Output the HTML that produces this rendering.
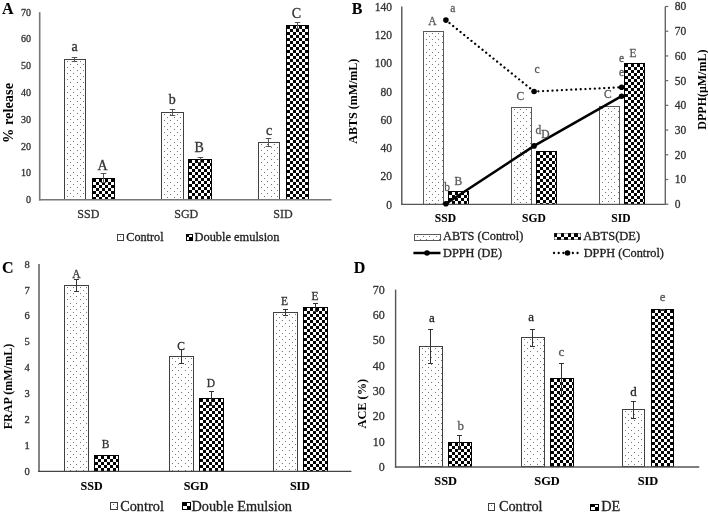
<!DOCTYPE html><html><head><meta charset="utf-8"><style>html,body{margin:0;padding:0;background:#fff;}svg{display:block;filter:grayscale(1);}text{font-family:"Liberation Serif",serif;}</style></head><body>
<svg width="708" height="515" viewBox="0 0 708 515">
<defs>
<pattern id="dots" patternUnits="userSpaceOnUse" width="6.3" height="6.1"><rect width="6.3" height="6.1" fill="#fff"/><rect x="0.2" y="0.2" width="1" height="1" fill="#666"/><rect x="3.35" y="3.25" width="1" height="1" fill="#666"/></pattern>
<pattern id="chk" patternUnits="userSpaceOnUse" width="6.2" height="6.2"><rect width="6.2" height="6.2" fill="#fff"/><rect x="0" y="0" width="3.1" height="3.1" fill="#000"/><rect x="3.1" y="3.1" width="3.1" height="3.1" fill="#000"/></pattern>
</defs>
<rect width="708" height="515" fill="#fff"/>
<text x="2.0" y="14.0" font-size="16" fill="#000" stroke="#000" stroke-width="0.1" font-weight="bold" text-anchor="start" >A</text>
<text x="31.0" y="203.0" font-size="10" fill="#333" stroke="#333" stroke-width="0.3" font-weight="normal" text-anchor="end" >0</text>
<text x="31.0" y="176.2" font-size="10" fill="#333" stroke="#333" stroke-width="0.3" font-weight="normal" text-anchor="end" >10</text>
<text x="31.0" y="149.5" font-size="10" fill="#333" stroke="#333" stroke-width="0.3" font-weight="normal" text-anchor="end" >20</text>
<text x="31.0" y="122.7" font-size="10" fill="#333" stroke="#333" stroke-width="0.3" font-weight="normal" text-anchor="end" >30</text>
<text x="31.0" y="95.9" font-size="10" fill="#333" stroke="#333" stroke-width="0.3" font-weight="normal" text-anchor="end" >40</text>
<text x="31.0" y="69.2" font-size="10" fill="#333" stroke="#333" stroke-width="0.3" font-weight="normal" text-anchor="end" >50</text>
<text x="31.0" y="42.4" font-size="10" fill="#333" stroke="#333" stroke-width="0.3" font-weight="normal" text-anchor="end" >60</text>
<text x="31.0" y="15.6" font-size="10" fill="#333" stroke="#333" stroke-width="0.3" font-weight="normal" text-anchor="end" >70</text>
<text transform="translate(7.5,113.0) rotate(-90)" x="0" y="0" font-size="14.4" fill="#000" font-weight="bold" text-anchor="middle" dominant-baseline="central">% release</text>
<rect x="64.5" y="59.5" width="21.0" height="140.0" fill="#fff"/>
<path d="M67 61h1v1h-1zM73 61h1v1h-1zM80 61h1v1h-1zM70 64h1v1h-1zM77 64h1v1h-1zM83 64h1v1h-1zM67 67h1v1h-1zM73 67h1v1h-1zM80 67h1v1h-1zM70 70h1v1h-1zM77 70h1v1h-1zM83 70h1v1h-1zM67 73h1v1h-1zM73 73h1v1h-1zM80 73h1v1h-1zM70 76h1v1h-1zM77 76h1v1h-1zM83 76h1v1h-1zM67 79h1v1h-1zM73 79h1v1h-1zM80 79h1v1h-1zM70 82h1v1h-1zM77 82h1v1h-1zM83 82h1v1h-1zM67 86h1v1h-1zM73 86h1v1h-1zM80 86h1v1h-1zM70 89h1v1h-1zM77 89h1v1h-1zM83 89h1v1h-1zM67 92h1v1h-1zM73 92h1v1h-1zM80 92h1v1h-1zM70 95h1v1h-1zM77 95h1v1h-1zM83 95h1v1h-1zM67 98h1v1h-1zM73 98h1v1h-1zM80 98h1v1h-1zM70 101h1v1h-1zM77 101h1v1h-1zM83 101h1v1h-1zM67 104h1v1h-1zM73 104h1v1h-1zM80 104h1v1h-1zM70 107h1v1h-1zM77 107h1v1h-1zM83 107h1v1h-1zM67 110h1v1h-1zM73 110h1v1h-1zM80 110h1v1h-1zM70 113h1v1h-1zM77 113h1v1h-1zM83 113h1v1h-1zM67 116h1v1h-1zM73 116h1v1h-1zM80 116h1v1h-1zM70 119h1v1h-1zM77 119h1v1h-1zM83 119h1v1h-1zM67 122h1v1h-1zM73 122h1v1h-1zM80 122h1v1h-1zM70 125h1v1h-1zM77 125h1v1h-1zM83 125h1v1h-1zM67 129h1v1h-1zM73 129h1v1h-1zM80 129h1v1h-1zM70 132h1v1h-1zM77 132h1v1h-1zM83 132h1v1h-1zM67 135h1v1h-1zM73 135h1v1h-1zM80 135h1v1h-1zM70 138h1v1h-1zM77 138h1v1h-1zM83 138h1v1h-1zM67 141h1v1h-1zM73 141h1v1h-1zM80 141h1v1h-1zM70 144h1v1h-1zM77 144h1v1h-1zM83 144h1v1h-1zM67 147h1v1h-1zM73 147h1v1h-1zM80 147h1v1h-1zM70 150h1v1h-1zM77 150h1v1h-1zM83 150h1v1h-1zM67 153h1v1h-1zM73 153h1v1h-1zM80 153h1v1h-1zM70 156h1v1h-1zM77 156h1v1h-1zM83 156h1v1h-1zM67 159h1v1h-1zM73 159h1v1h-1zM80 159h1v1h-1zM70 162h1v1h-1zM77 162h1v1h-1zM83 162h1v1h-1zM67 165h1v1h-1zM73 165h1v1h-1zM80 165h1v1h-1zM70 168h1v1h-1zM77 168h1v1h-1zM83 168h1v1h-1zM67 172h1v1h-1zM73 172h1v1h-1zM80 172h1v1h-1zM70 175h1v1h-1zM77 175h1v1h-1zM83 175h1v1h-1zM67 178h1v1h-1zM73 178h1v1h-1zM80 178h1v1h-1zM70 181h1v1h-1zM77 181h1v1h-1zM83 181h1v1h-1zM67 184h1v1h-1zM73 184h1v1h-1zM80 184h1v1h-1zM70 187h1v1h-1zM77 187h1v1h-1zM83 187h1v1h-1zM67 190h1v1h-1zM73 190h1v1h-1zM80 190h1v1h-1zM70 193h1v1h-1zM77 193h1v1h-1zM83 193h1v1h-1zM67 196h1v1h-1zM73 196h1v1h-1zM80 196h1v1h-1z" fill="#777"/>
<rect x="64.5" y="59.5" width="21.0" height="140.0" fill="none" stroke="#404040" stroke-width="1"/>
<rect x="92.5" y="178.5" width="22.0" height="21.0" fill="#fff"/>
<path d="M93 179h3v3h-3zM99 179h3v3h-3zM105 179h3v3h-3zM111 179h3v3h-3zM96 182h3v3h-3zM102 182h3v3h-3zM108 182h3v3h-3zM93 185h3v3h-3zM99 185h3v3h-3zM105 185h3v3h-3zM111 185h3v3h-3zM96 188h3v3h-3zM102 188h3v3h-3zM108 188h3v3h-3zM93 191h3v3h-3zM99 191h3v3h-3zM105 191h3v3h-3zM111 191h3v3h-3zM96 194h3v3h-3zM102 194h3v3h-3zM108 194h3v3h-3zM93 197h3v2h-3zM99 197h3v2h-3zM105 197h3v2h-3zM111 197h3v2h-3z" fill="#000"/>
<rect x="92.5" y="178.5" width="22.0" height="21.0" fill="none" stroke="#000" stroke-width="1"/>
<rect x="161.5" y="112.5" width="22.0" height="87.0" fill="#fff"/>
<path d="M164 114h1v1h-1zM170 114h1v1h-1zM177 114h1v1h-1zM167 117h1v1h-1zM174 117h1v1h-1zM180 117h1v1h-1zM164 120h1v1h-1zM170 120h1v1h-1zM177 120h1v1h-1zM167 123h1v1h-1zM174 123h1v1h-1zM180 123h1v1h-1zM164 126h1v1h-1zM170 126h1v1h-1zM177 126h1v1h-1zM167 129h1v1h-1zM174 129h1v1h-1zM180 129h1v1h-1zM164 132h1v1h-1zM170 132h1v1h-1zM177 132h1v1h-1zM167 135h1v1h-1zM174 135h1v1h-1zM180 135h1v1h-1zM164 139h1v1h-1zM170 139h1v1h-1zM177 139h1v1h-1zM167 142h1v1h-1zM174 142h1v1h-1zM180 142h1v1h-1zM164 145h1v1h-1zM170 145h1v1h-1zM177 145h1v1h-1zM167 148h1v1h-1zM174 148h1v1h-1zM180 148h1v1h-1zM164 151h1v1h-1zM170 151h1v1h-1zM177 151h1v1h-1zM167 154h1v1h-1zM174 154h1v1h-1zM180 154h1v1h-1zM164 157h1v1h-1zM170 157h1v1h-1zM177 157h1v1h-1zM167 160h1v1h-1zM174 160h1v1h-1zM180 160h1v1h-1zM164 163h1v1h-1zM170 163h1v1h-1zM177 163h1v1h-1zM167 166h1v1h-1zM174 166h1v1h-1zM180 166h1v1h-1zM164 169h1v1h-1zM170 169h1v1h-1zM177 169h1v1h-1zM167 172h1v1h-1zM174 172h1v1h-1zM180 172h1v1h-1zM164 175h1v1h-1zM170 175h1v1h-1zM177 175h1v1h-1zM167 178h1v1h-1zM174 178h1v1h-1zM180 178h1v1h-1zM164 182h1v1h-1zM170 182h1v1h-1zM177 182h1v1h-1zM167 185h1v1h-1zM174 185h1v1h-1zM180 185h1v1h-1zM164 188h1v1h-1zM170 188h1v1h-1zM177 188h1v1h-1zM167 191h1v1h-1zM174 191h1v1h-1zM180 191h1v1h-1zM164 194h1v1h-1zM170 194h1v1h-1zM177 194h1v1h-1zM167 197h1v1h-1zM174 197h1v1h-1zM180 197h1v1h-1z" fill="#777"/>
<rect x="161.5" y="112.5" width="22.0" height="87.0" fill="none" stroke="#404040" stroke-width="1"/>
<rect x="188.5" y="159.5" width="23.0" height="40.0" fill="#fff"/>
<path d="M189 160h3v3h-3zM195 160h3v3h-3zM201 160h3v3h-3zM207 160h3v3h-3zM192 163h3v3h-3zM198 163h3v3h-3zM204 163h3v3h-3zM210 163h1v3h-1zM189 166h3v3h-3zM195 166h3v3h-3zM201 166h3v3h-3zM207 166h3v3h-3zM192 169h3v3h-3zM198 169h3v3h-3zM204 169h3v3h-3zM210 169h1v3h-1zM189 172h3v3h-3zM195 172h3v3h-3zM201 172h3v3h-3zM207 172h3v3h-3zM192 175h3v3h-3zM198 175h3v3h-3zM204 175h3v3h-3zM210 175h1v3h-1zM189 178h3v3h-3zM195 178h3v3h-3zM201 178h3v3h-3zM207 178h3v3h-3zM192 181h3v3h-3zM198 181h3v3h-3zM204 181h3v3h-3zM210 181h1v3h-1zM189 184h3v3h-3zM195 184h3v3h-3zM201 184h3v3h-3zM207 184h3v3h-3zM192 187h3v3h-3zM198 187h3v3h-3zM204 187h3v3h-3zM210 187h1v3h-1zM189 190h3v3h-3zM195 190h3v3h-3zM201 190h3v3h-3zM207 190h3v3h-3zM192 193h3v3h-3zM198 193h3v3h-3zM204 193h3v3h-3zM210 193h1v3h-1zM189 196h3v3h-3zM195 196h3v3h-3zM201 196h3v3h-3zM207 196h3v3h-3z" fill="#000"/>
<rect x="188.5" y="159.5" width="23.0" height="40.0" fill="none" stroke="#000" stroke-width="1"/>
<rect x="258.5" y="142.5" width="21.0" height="57.0" fill="#fff"/>
<path d="M261 144h1v1h-1zM267 144h1v1h-1zM274 144h1v1h-1zM264 147h1v1h-1zM271 147h1v1h-1zM277 147h1v1h-1zM261 150h1v1h-1zM267 150h1v1h-1zM274 150h1v1h-1zM264 153h1v1h-1zM271 153h1v1h-1zM277 153h1v1h-1zM261 156h1v1h-1zM267 156h1v1h-1zM274 156h1v1h-1zM264 159h1v1h-1zM271 159h1v1h-1zM277 159h1v1h-1zM261 162h1v1h-1zM267 162h1v1h-1zM274 162h1v1h-1zM264 165h1v1h-1zM271 165h1v1h-1zM277 165h1v1h-1zM261 169h1v1h-1zM267 169h1v1h-1zM274 169h1v1h-1zM264 172h1v1h-1zM271 172h1v1h-1zM277 172h1v1h-1zM261 175h1v1h-1zM267 175h1v1h-1zM274 175h1v1h-1zM264 178h1v1h-1zM271 178h1v1h-1zM277 178h1v1h-1zM261 181h1v1h-1zM267 181h1v1h-1zM274 181h1v1h-1zM264 184h1v1h-1zM271 184h1v1h-1zM277 184h1v1h-1zM261 187h1v1h-1zM267 187h1v1h-1zM274 187h1v1h-1zM264 190h1v1h-1zM271 190h1v1h-1zM277 190h1v1h-1zM261 193h1v1h-1zM267 193h1v1h-1zM274 193h1v1h-1zM264 196h1v1h-1zM271 196h1v1h-1zM277 196h1v1h-1z" fill="#777"/>
<rect x="258.5" y="142.5" width="21.0" height="57.0" fill="none" stroke="#404040" stroke-width="1"/>
<rect x="286.5" y="25.5" width="22.0" height="174.0" fill="#fff"/>
<path d="M287 26h3v3h-3zM293 26h3v3h-3zM299 26h3v3h-3zM305 26h3v3h-3zM290 29h3v3h-3zM296 29h3v3h-3zM302 29h3v3h-3zM287 32h3v3h-3zM293 32h3v3h-3zM299 32h3v3h-3zM305 32h3v3h-3zM290 35h3v3h-3zM296 35h3v3h-3zM302 35h3v3h-3zM287 38h3v3h-3zM293 38h3v3h-3zM299 38h3v3h-3zM305 38h3v3h-3zM290 41h3v3h-3zM296 41h3v3h-3zM302 41h3v3h-3zM287 44h3v3h-3zM293 44h3v3h-3zM299 44h3v3h-3zM305 44h3v3h-3zM290 47h3v3h-3zM296 47h3v3h-3zM302 47h3v3h-3zM287 50h3v3h-3zM293 50h3v3h-3zM299 50h3v3h-3zM305 50h3v3h-3zM290 53h3v3h-3zM296 53h3v3h-3zM302 53h3v3h-3zM287 56h3v3h-3zM293 56h3v3h-3zM299 56h3v3h-3zM305 56h3v3h-3zM290 59h3v3h-3zM296 59h3v3h-3zM302 59h3v3h-3zM287 62h3v3h-3zM293 62h3v3h-3zM299 62h3v3h-3zM305 62h3v3h-3zM290 65h3v3h-3zM296 65h3v3h-3zM302 65h3v3h-3zM287 68h3v3h-3zM293 68h3v3h-3zM299 68h3v3h-3zM305 68h3v3h-3zM290 71h3v3h-3zM296 71h3v3h-3zM302 71h3v3h-3zM287 74h3v3h-3zM293 74h3v3h-3zM299 74h3v3h-3zM305 74h3v3h-3zM290 77h3v3h-3zM296 77h3v3h-3zM302 77h3v3h-3zM287 80h3v3h-3zM293 80h3v3h-3zM299 80h3v3h-3zM305 80h3v3h-3zM290 83h3v3h-3zM296 83h3v3h-3zM302 83h3v3h-3zM287 86h3v3h-3zM293 86h3v3h-3zM299 86h3v3h-3zM305 86h3v3h-3zM290 89h3v3h-3zM296 89h3v3h-3zM302 89h3v3h-3zM287 92h3v3h-3zM293 92h3v3h-3zM299 92h3v3h-3zM305 92h3v3h-3zM290 95h3v3h-3zM296 95h3v3h-3zM302 95h3v3h-3zM287 98h3v3h-3zM293 98h3v3h-3zM299 98h3v3h-3zM305 98h3v3h-3zM290 101h3v3h-3zM296 101h3v3h-3zM302 101h3v3h-3zM287 104h3v3h-3zM293 104h3v3h-3zM299 104h3v3h-3zM305 104h3v3h-3zM290 107h3v3h-3zM296 107h3v3h-3zM302 107h3v3h-3zM287 110h3v3h-3zM293 110h3v3h-3zM299 110h3v3h-3zM305 110h3v3h-3zM290 113h3v3h-3zM296 113h3v3h-3zM302 113h3v3h-3zM287 116h3v3h-3zM293 116h3v3h-3zM299 116h3v3h-3zM305 116h3v3h-3zM290 119h3v3h-3zM296 119h3v3h-3zM302 119h3v3h-3zM287 122h3v3h-3zM293 122h3v3h-3zM299 122h3v3h-3zM305 122h3v3h-3zM290 125h3v3h-3zM296 125h3v3h-3zM302 125h3v3h-3zM287 128h3v3h-3zM293 128h3v3h-3zM299 128h3v3h-3zM305 128h3v3h-3zM290 131h3v3h-3zM296 131h3v3h-3zM302 131h3v3h-3zM287 134h3v3h-3zM293 134h3v3h-3zM299 134h3v3h-3zM305 134h3v3h-3zM290 137h3v3h-3zM296 137h3v3h-3zM302 137h3v3h-3zM287 140h3v3h-3zM293 140h3v3h-3zM299 140h3v3h-3zM305 140h3v3h-3zM290 143h3v3h-3zM296 143h3v3h-3zM302 143h3v3h-3zM287 146h3v3h-3zM293 146h3v3h-3zM299 146h3v3h-3zM305 146h3v3h-3zM290 149h3v3h-3zM296 149h3v3h-3zM302 149h3v3h-3zM287 152h3v3h-3zM293 152h3v3h-3zM299 152h3v3h-3zM305 152h3v3h-3zM290 155h3v3h-3zM296 155h3v3h-3zM302 155h3v3h-3zM287 158h3v3h-3zM293 158h3v3h-3zM299 158h3v3h-3zM305 158h3v3h-3zM290 161h3v3h-3zM296 161h3v3h-3zM302 161h3v3h-3zM287 164h3v3h-3zM293 164h3v3h-3zM299 164h3v3h-3zM305 164h3v3h-3zM290 167h3v3h-3zM296 167h3v3h-3zM302 167h3v3h-3zM287 170h3v3h-3zM293 170h3v3h-3zM299 170h3v3h-3zM305 170h3v3h-3zM290 173h3v3h-3zM296 173h3v3h-3zM302 173h3v3h-3zM287 176h3v3h-3zM293 176h3v3h-3zM299 176h3v3h-3zM305 176h3v3h-3zM290 179h3v3h-3zM296 179h3v3h-3zM302 179h3v3h-3zM287 182h3v3h-3zM293 182h3v3h-3zM299 182h3v3h-3zM305 182h3v3h-3zM290 185h3v3h-3zM296 185h3v3h-3zM302 185h3v3h-3zM287 188h3v3h-3zM293 188h3v3h-3zM299 188h3v3h-3zM305 188h3v3h-3zM290 191h3v3h-3zM296 191h3v3h-3zM302 191h3v3h-3zM287 194h3v3h-3zM293 194h3v3h-3zM299 194h3v3h-3zM305 194h3v3h-3zM290 197h3v2h-3zM296 197h3v2h-3zM302 197h3v2h-3z" fill="#000"/>
<rect x="286.5" y="25.5" width="22.0" height="174.0" fill="none" stroke="#000" stroke-width="1"/>
<line x1="74.50" y1="57.45" x2="74.50" y2="61.73" stroke="#555" stroke-width="1" />
<line x1="71.75" y1="57.50" x2="77.25" y2="57.50" stroke="#555" stroke-width="1" />
<line x1="71.75" y1="61.50" x2="77.25" y2="61.50" stroke="#555" stroke-width="1" />
<line x1="103.50" y1="173.90" x2="103.50" y2="182.47" stroke="#555" stroke-width="1" />
<line x1="100.75" y1="173.50" x2="106.25" y2="173.50" stroke="#555" stroke-width="1" />
<line x1="100.75" y1="182.50" x2="106.25" y2="182.50" stroke="#555" stroke-width="1" />
<line x1="172.50" y1="109.65" x2="172.50" y2="115.01" stroke="#555" stroke-width="1" />
<line x1="169.75" y1="109.50" x2="175.25" y2="109.50" stroke="#555" stroke-width="1" />
<line x1="169.75" y1="115.50" x2="175.25" y2="115.50" stroke="#555" stroke-width="1" />
<line x1="200.50" y1="157.30" x2="200.50" y2="162.66" stroke="#555" stroke-width="1" />
<line x1="197.75" y1="157.50" x2="203.25" y2="157.50" stroke="#555" stroke-width="1" />
<line x1="197.75" y1="162.50" x2="203.25" y2="162.50" stroke="#555" stroke-width="1" />
<line x1="268.50" y1="138.56" x2="268.50" y2="146.06" stroke="#555" stroke-width="1" />
<line x1="265.75" y1="138.50" x2="271.25" y2="138.50" stroke="#555" stroke-width="1" />
<line x1="265.75" y1="146.50" x2="271.25" y2="146.50" stroke="#555" stroke-width="1" />
<line x1="297.50" y1="22.65" x2="297.50" y2="28.54" stroke="#555" stroke-width="1" />
<line x1="294.75" y1="22.50" x2="300.25" y2="22.50" stroke="#555" stroke-width="1" />
<line x1="294.75" y1="28.50" x2="300.25" y2="28.50" stroke="#555" stroke-width="1" />
<line x1="39.70" y1="12.20" x2="39.70" y2="200.60" stroke="#777" stroke-width="1.6" />
<line x1="39.20" y1="199.80" x2="331.50" y2="199.80" stroke="#777" stroke-width="1.6" />
<text x="88.3" y="218.0" font-size="12" fill="#333" stroke="#333" stroke-width="0.3" font-weight="normal" text-anchor="middle" >SSD</text>
<text x="186.3" y="218.0" font-size="12" fill="#333" stroke="#333" stroke-width="0.3" font-weight="normal" text-anchor="middle" >SGD</text>
<text x="282.9" y="218.0" font-size="12" fill="#333" stroke="#333" stroke-width="0.3" font-weight="normal" text-anchor="middle" >SID</text>
<text x="74.7" y="51.0" font-size="14" fill="#333" stroke="#333" stroke-width="0.3" font-weight="normal" text-anchor="middle" >a</text>
<text x="102.5" y="170.3" font-size="14" fill="#333" stroke="#333" stroke-width="0.3" font-weight="normal" text-anchor="middle" >A</text>
<text x="172.2" y="104.0" font-size="14" fill="#333" stroke="#333" stroke-width="0.3" font-weight="normal" text-anchor="middle" >b</text>
<text x="199.2" y="151.7" font-size="14" fill="#333" stroke="#333" stroke-width="0.3" font-weight="normal" text-anchor="middle" >B</text>
<text x="269.0" y="134.6" font-size="14" fill="#333" stroke="#333" stroke-width="0.3" font-weight="normal" text-anchor="middle" >c</text>
<text x="296.4" y="17.5" font-size="14" fill="#333" stroke="#333" stroke-width="0.3" font-weight="normal" text-anchor="middle" >C</text>
<rect x="117.5" y="234.5" width="6.0" height="6.0" fill="#fff"/>
<path d="M120 236h1v1h-1z" fill="#777"/>
<rect x="117.5" y="234.5" width="6.0" height="6.0" fill="none" stroke="#404040" stroke-width="1"/>
<text x="126.3" y="240.5" font-size="12.2" fill="#222" stroke="#222" stroke-width="0.3" font-weight="normal" text-anchor="start" >Control</text>
<rect x="186.5" y="234.5" width="6.0" height="6.0" fill="#fff"/>
<path d="M187 235h2v2h-2zM189 237h3v3h-3z" fill="#000"/>
<rect x="186.5" y="234.5" width="6.0" height="6.0" fill="none" stroke="#000" stroke-width="1"/>
<text x="194.5" y="240.5" font-size="12.4" fill="#222" stroke="#222" stroke-width="0.3" font-weight="normal" text-anchor="start" >Double emulsion</text>
<text x="351.7" y="14.0" font-size="16" fill="#000" stroke="#000" stroke-width="0.1" font-weight="bold" text-anchor="start" >B</text>
<text x="392.0" y="208.5" font-size="11.5" fill="#333" stroke="#333" stroke-width="0.3" font-weight="normal" text-anchor="end" >0</text>
<text x="392.0" y="180.3" font-size="11.5" fill="#333" stroke="#333" stroke-width="0.3" font-weight="normal" text-anchor="end" >20</text>
<text x="392.0" y="152.0" font-size="11.5" fill="#333" stroke="#333" stroke-width="0.3" font-weight="normal" text-anchor="end" >40</text>
<text x="392.0" y="123.8" font-size="11.5" fill="#333" stroke="#333" stroke-width="0.3" font-weight="normal" text-anchor="end" >60</text>
<text x="392.0" y="95.5" font-size="11.5" fill="#333" stroke="#333" stroke-width="0.3" font-weight="normal" text-anchor="end" >80</text>
<text x="392.0" y="67.3" font-size="11.5" fill="#333" stroke="#333" stroke-width="0.3" font-weight="normal" text-anchor="end" >100</text>
<text x="392.0" y="39.1" font-size="11.5" fill="#333" stroke="#333" stroke-width="0.3" font-weight="normal" text-anchor="end" >120</text>
<text x="392.0" y="10.8" font-size="11.5" fill="#333" stroke="#333" stroke-width="0.3" font-weight="normal" text-anchor="end" >140</text>
<text x="674.8" y="208.1" font-size="11.5" fill="#333" stroke="#333" stroke-width="0.3" font-weight="normal" text-anchor="start" >0</text>
<text x="674.8" y="183.4" font-size="11.5" fill="#333" stroke="#333" stroke-width="0.3" font-weight="normal" text-anchor="start" >10</text>
<text x="674.8" y="158.7" font-size="11.5" fill="#333" stroke="#333" stroke-width="0.3" font-weight="normal" text-anchor="start" >20</text>
<text x="674.8" y="134.0" font-size="11.5" fill="#333" stroke="#333" stroke-width="0.3" font-weight="normal" text-anchor="start" >30</text>
<text x="674.8" y="109.3" font-size="11.5" fill="#333" stroke="#333" stroke-width="0.3" font-weight="normal" text-anchor="start" >40</text>
<text x="674.8" y="84.6" font-size="11.5" fill="#333" stroke="#333" stroke-width="0.3" font-weight="normal" text-anchor="start" >50</text>
<text x="674.8" y="59.8" font-size="11.5" fill="#333" stroke="#333" stroke-width="0.3" font-weight="normal" text-anchor="start" >60</text>
<text x="674.8" y="35.1" font-size="11.5" fill="#333" stroke="#333" stroke-width="0.3" font-weight="normal" text-anchor="start" >70</text>
<text x="674.8" y="10.4" font-size="11.5" fill="#333" stroke="#333" stroke-width="0.3" font-weight="normal" text-anchor="start" >80</text>
<text transform="translate(353.0,101.2) rotate(-90)" x="0" y="0" font-size="12" fill="#000" font-weight="bold" text-anchor="middle" dominant-baseline="central">ABTS (mM/mL)</text>
<text transform="translate(701.5,89.6) rotate(-90)" x="0" y="0" font-size="12" fill="#000" font-weight="bold" text-anchor="middle" dominant-baseline="central">DPPH(&#956;M/mL)</text>
<rect x="423.5" y="31.5" width="20.0" height="173.0" fill="#fff"/>
<path d="M426 33h1v1h-1zM432 33h1v1h-1zM438 33h1v1h-1zM429 36h1v1h-1zM435 36h1v1h-1zM442 36h1v1h-1zM426 39h1v1h-1zM432 39h1v1h-1zM438 39h1v1h-1zM429 42h1v1h-1zM435 42h1v1h-1zM442 42h1v1h-1zM426 45h1v1h-1zM432 45h1v1h-1zM438 45h1v1h-1zM429 49h1v1h-1zM435 49h1v1h-1zM442 49h1v1h-1zM426 52h1v1h-1zM432 52h1v1h-1zM438 52h1v1h-1zM429 55h1v1h-1zM435 55h1v1h-1zM442 55h1v1h-1zM426 58h1v1h-1zM432 58h1v1h-1zM438 58h1v1h-1zM429 61h1v1h-1zM435 61h1v1h-1zM442 61h1v1h-1zM426 64h1v1h-1zM432 64h1v1h-1zM438 64h1v1h-1zM429 67h1v1h-1zM435 67h1v1h-1zM442 67h1v1h-1zM426 70h1v1h-1zM432 70h1v1h-1zM438 70h1v1h-1zM429 73h1v1h-1zM435 73h1v1h-1zM442 73h1v1h-1zM426 76h1v1h-1zM432 76h1v1h-1zM438 76h1v1h-1zM429 79h1v1h-1zM435 79h1v1h-1zM442 79h1v1h-1zM426 83h1v1h-1zM432 83h1v1h-1zM438 83h1v1h-1zM429 86h1v1h-1zM435 86h1v1h-1zM442 86h1v1h-1zM426 89h1v1h-1zM432 89h1v1h-1zM438 89h1v1h-1zM429 92h1v1h-1zM435 92h1v1h-1zM442 92h1v1h-1zM426 95h1v1h-1zM432 95h1v1h-1zM438 95h1v1h-1zM429 98h1v1h-1zM435 98h1v1h-1zM442 98h1v1h-1zM426 101h1v1h-1zM432 101h1v1h-1zM438 101h1v1h-1zM429 104h1v1h-1zM435 104h1v1h-1zM442 104h1v1h-1zM426 107h1v1h-1zM432 107h1v1h-1zM438 107h1v1h-1zM429 111h1v1h-1zM435 111h1v1h-1zM442 111h1v1h-1zM426 114h1v1h-1zM432 114h1v1h-1zM438 114h1v1h-1zM429 117h1v1h-1zM435 117h1v1h-1zM442 117h1v1h-1zM426 120h1v1h-1zM432 120h1v1h-1zM438 120h1v1h-1zM429 123h1v1h-1zM435 123h1v1h-1zM442 123h1v1h-1zM426 126h1v1h-1zM432 126h1v1h-1zM438 126h1v1h-1zM429 129h1v1h-1zM435 129h1v1h-1zM442 129h1v1h-1zM426 132h1v1h-1zM432 132h1v1h-1zM438 132h1v1h-1zM429 135h1v1h-1zM435 135h1v1h-1zM442 135h1v1h-1zM426 138h1v1h-1zM432 138h1v1h-1zM438 138h1v1h-1zM429 141h1v1h-1zM435 141h1v1h-1zM442 141h1v1h-1zM426 145h1v1h-1zM432 145h1v1h-1zM438 145h1v1h-1zM429 148h1v1h-1zM435 148h1v1h-1zM442 148h1v1h-1zM426 151h1v1h-1zM432 151h1v1h-1zM438 151h1v1h-1zM429 154h1v1h-1zM435 154h1v1h-1zM442 154h1v1h-1zM426 157h1v1h-1zM432 157h1v1h-1zM438 157h1v1h-1zM429 160h1v1h-1zM435 160h1v1h-1zM442 160h1v1h-1zM426 163h1v1h-1zM432 163h1v1h-1zM438 163h1v1h-1zM429 166h1v1h-1zM435 166h1v1h-1zM442 166h1v1h-1zM426 169h1v1h-1zM432 169h1v1h-1zM438 169h1v1h-1zM429 173h1v1h-1zM435 173h1v1h-1zM442 173h1v1h-1zM426 176h1v1h-1zM432 176h1v1h-1zM438 176h1v1h-1zM429 179h1v1h-1zM435 179h1v1h-1zM442 179h1v1h-1zM426 182h1v1h-1zM432 182h1v1h-1zM438 182h1v1h-1zM429 185h1v1h-1zM435 185h1v1h-1zM442 185h1v1h-1zM426 188h1v1h-1zM432 188h1v1h-1zM438 188h1v1h-1zM429 191h1v1h-1zM435 191h1v1h-1zM442 191h1v1h-1zM426 194h1v1h-1zM432 194h1v1h-1zM438 194h1v1h-1zM429 197h1v1h-1zM435 197h1v1h-1zM442 197h1v1h-1zM426 200h1v1h-1zM432 200h1v1h-1zM438 200h1v1h-1zM429 203h1v1h-1zM435 203h1v1h-1zM442 203h1v1h-1z" fill="#777"/>
<rect x="423.5" y="31.5" width="20.0" height="173.0" fill="none" stroke="#595959" stroke-width="1"/>
<rect x="448.5" y="191.5" width="20.0" height="13.0" fill="#fff"/>
<path d="M449 192h3v3h-3zM455 192h3v3h-3zM461 192h3v3h-3zM467 192h1v3h-1zM452 195h3v3h-3zM458 195h3v3h-3zM464 195h3v3h-3zM449 198h3v3h-3zM455 198h3v3h-3zM461 198h3v3h-3zM467 198h1v3h-1zM452 201h3v3h-3zM458 201h3v3h-3zM464 201h3v3h-3z" fill="#000"/>
<rect x="448.5" y="191.5" width="20.0" height="13.0" fill="none" stroke="#000" stroke-width="1"/>
<rect x="511.5" y="107.5" width="20.0" height="97.0" fill="#fff"/>
<path d="M514 109h1v1h-1zM520 109h1v1h-1zM526 109h1v1h-1zM517 112h1v1h-1zM523 112h1v1h-1zM530 112h1v1h-1zM514 115h1v1h-1zM520 115h1v1h-1zM526 115h1v1h-1zM517 118h1v1h-1zM523 118h1v1h-1zM530 118h1v1h-1zM514 121h1v1h-1zM520 121h1v1h-1zM526 121h1v1h-1zM517 125h1v1h-1zM523 125h1v1h-1zM530 125h1v1h-1zM514 128h1v1h-1zM520 128h1v1h-1zM526 128h1v1h-1zM517 131h1v1h-1zM523 131h1v1h-1zM530 131h1v1h-1zM514 134h1v1h-1zM520 134h1v1h-1zM526 134h1v1h-1zM517 137h1v1h-1zM523 137h1v1h-1zM530 137h1v1h-1zM514 140h1v1h-1zM520 140h1v1h-1zM526 140h1v1h-1zM517 143h1v1h-1zM523 143h1v1h-1zM530 143h1v1h-1zM514 146h1v1h-1zM520 146h1v1h-1zM526 146h1v1h-1zM517 149h1v1h-1zM523 149h1v1h-1zM530 149h1v1h-1zM514 152h1v1h-1zM520 152h1v1h-1zM526 152h1v1h-1zM517 155h1v1h-1zM523 155h1v1h-1zM530 155h1v1h-1zM514 159h1v1h-1zM520 159h1v1h-1zM526 159h1v1h-1zM517 162h1v1h-1zM523 162h1v1h-1zM530 162h1v1h-1zM514 165h1v1h-1zM520 165h1v1h-1zM526 165h1v1h-1zM517 168h1v1h-1zM523 168h1v1h-1zM530 168h1v1h-1zM514 171h1v1h-1zM520 171h1v1h-1zM526 171h1v1h-1zM517 174h1v1h-1zM523 174h1v1h-1zM530 174h1v1h-1zM514 177h1v1h-1zM520 177h1v1h-1zM526 177h1v1h-1zM517 180h1v1h-1zM523 180h1v1h-1zM530 180h1v1h-1zM514 183h1v1h-1zM520 183h1v1h-1zM526 183h1v1h-1zM517 187h1v1h-1zM523 187h1v1h-1zM530 187h1v1h-1zM514 190h1v1h-1zM520 190h1v1h-1zM526 190h1v1h-1zM517 193h1v1h-1zM523 193h1v1h-1zM530 193h1v1h-1zM514 196h1v1h-1zM520 196h1v1h-1zM526 196h1v1h-1zM517 199h1v1h-1zM523 199h1v1h-1zM530 199h1v1h-1zM514 202h1v1h-1zM520 202h1v1h-1zM526 202h1v1h-1z" fill="#777"/>
<rect x="511.5" y="107.5" width="20.0" height="97.0" fill="none" stroke="#595959" stroke-width="1"/>
<rect x="536.5" y="151.5" width="20.0" height="53.0" fill="#fff"/>
<path d="M537 152h3v3h-3zM543 152h3v3h-3zM549 152h3v3h-3zM555 152h1v3h-1zM540 155h3v3h-3zM546 155h3v3h-3zM552 155h3v3h-3zM537 158h3v3h-3zM543 158h3v3h-3zM549 158h3v3h-3zM555 158h1v3h-1zM540 161h3v3h-3zM546 161h3v3h-3zM552 161h3v3h-3zM537 164h3v3h-3zM543 164h3v3h-3zM549 164h3v3h-3zM555 164h1v3h-1zM540 167h3v3h-3zM546 167h3v3h-3zM552 167h3v3h-3zM537 170h3v3h-3zM543 170h3v3h-3zM549 170h3v3h-3zM555 170h1v3h-1zM540 173h3v3h-3zM546 173h3v3h-3zM552 173h3v3h-3zM537 176h3v3h-3zM543 176h3v3h-3zM549 176h3v3h-3zM555 176h1v3h-1zM540 179h3v3h-3zM546 179h3v3h-3zM552 179h3v3h-3zM537 182h3v3h-3zM543 182h3v3h-3zM549 182h3v3h-3zM555 182h1v3h-1zM540 185h3v3h-3zM546 185h3v3h-3zM552 185h3v3h-3zM537 188h3v3h-3zM543 188h3v3h-3zM549 188h3v3h-3zM555 188h1v3h-1zM540 191h3v3h-3zM546 191h3v3h-3zM552 191h3v3h-3zM537 194h3v3h-3zM543 194h3v3h-3zM549 194h3v3h-3zM555 194h1v3h-1zM540 197h3v3h-3zM546 197h3v3h-3zM552 197h3v3h-3zM537 200h3v3h-3zM543 200h3v3h-3zM549 200h3v3h-3zM555 200h1v3h-1zM540 203h3v1h-3zM546 203h3v1h-3zM552 203h3v1h-3z" fill="#000"/>
<rect x="536.5" y="151.5" width="20.0" height="53.0" fill="none" stroke="#000" stroke-width="1"/>
<rect x="599.5" y="106.5" width="20.0" height="98.0" fill="#fff"/>
<path d="M602 108h1v1h-1zM608 108h1v1h-1zM614 108h1v1h-1zM605 111h1v1h-1zM611 111h1v1h-1zM618 111h1v1h-1zM602 114h1v1h-1zM608 114h1v1h-1zM614 114h1v1h-1zM605 117h1v1h-1zM611 117h1v1h-1zM618 117h1v1h-1zM602 120h1v1h-1zM608 120h1v1h-1zM614 120h1v1h-1zM605 124h1v1h-1zM611 124h1v1h-1zM618 124h1v1h-1zM602 127h1v1h-1zM608 127h1v1h-1zM614 127h1v1h-1zM605 130h1v1h-1zM611 130h1v1h-1zM618 130h1v1h-1zM602 133h1v1h-1zM608 133h1v1h-1zM614 133h1v1h-1zM605 136h1v1h-1zM611 136h1v1h-1zM618 136h1v1h-1zM602 139h1v1h-1zM608 139h1v1h-1zM614 139h1v1h-1zM605 142h1v1h-1zM611 142h1v1h-1zM618 142h1v1h-1zM602 145h1v1h-1zM608 145h1v1h-1zM614 145h1v1h-1zM605 148h1v1h-1zM611 148h1v1h-1zM618 148h1v1h-1zM602 151h1v1h-1zM608 151h1v1h-1zM614 151h1v1h-1zM605 154h1v1h-1zM611 154h1v1h-1zM618 154h1v1h-1zM602 158h1v1h-1zM608 158h1v1h-1zM614 158h1v1h-1zM605 161h1v1h-1zM611 161h1v1h-1zM618 161h1v1h-1zM602 164h1v1h-1zM608 164h1v1h-1zM614 164h1v1h-1zM605 167h1v1h-1zM611 167h1v1h-1zM618 167h1v1h-1zM602 170h1v1h-1zM608 170h1v1h-1zM614 170h1v1h-1zM605 173h1v1h-1zM611 173h1v1h-1zM618 173h1v1h-1zM602 176h1v1h-1zM608 176h1v1h-1zM614 176h1v1h-1zM605 179h1v1h-1zM611 179h1v1h-1zM618 179h1v1h-1zM602 182h1v1h-1zM608 182h1v1h-1zM614 182h1v1h-1zM605 186h1v1h-1zM611 186h1v1h-1zM618 186h1v1h-1zM602 189h1v1h-1zM608 189h1v1h-1zM614 189h1v1h-1zM605 192h1v1h-1zM611 192h1v1h-1zM618 192h1v1h-1zM602 195h1v1h-1zM608 195h1v1h-1zM614 195h1v1h-1zM605 198h1v1h-1zM611 198h1v1h-1zM618 198h1v1h-1zM602 201h1v1h-1zM608 201h1v1h-1zM614 201h1v1h-1z" fill="#777"/>
<rect x="599.5" y="106.5" width="20.0" height="98.0" fill="none" stroke="#595959" stroke-width="1"/>
<rect x="624.5" y="63.5" width="20.0" height="141.0" fill="#fff"/>
<path d="M625 64h3v3h-3zM631 64h3v3h-3zM637 64h3v3h-3zM643 64h1v3h-1zM628 67h3v3h-3zM634 67h3v3h-3zM640 67h3v3h-3zM625 70h3v3h-3zM631 70h3v3h-3zM637 70h3v3h-3zM643 70h1v3h-1zM628 73h3v3h-3zM634 73h3v3h-3zM640 73h3v3h-3zM625 76h3v3h-3zM631 76h3v3h-3zM637 76h3v3h-3zM643 76h1v3h-1zM628 79h3v3h-3zM634 79h3v3h-3zM640 79h3v3h-3zM625 82h3v3h-3zM631 82h3v3h-3zM637 82h3v3h-3zM643 82h1v3h-1zM628 85h3v3h-3zM634 85h3v3h-3zM640 85h3v3h-3zM625 88h3v3h-3zM631 88h3v3h-3zM637 88h3v3h-3zM643 88h1v3h-1zM628 91h3v3h-3zM634 91h3v3h-3zM640 91h3v3h-3zM625 94h3v3h-3zM631 94h3v3h-3zM637 94h3v3h-3zM643 94h1v3h-1zM628 97h3v3h-3zM634 97h3v3h-3zM640 97h3v3h-3zM625 100h3v3h-3zM631 100h3v3h-3zM637 100h3v3h-3zM643 100h1v3h-1zM628 103h3v3h-3zM634 103h3v3h-3zM640 103h3v3h-3zM625 106h3v3h-3zM631 106h3v3h-3zM637 106h3v3h-3zM643 106h1v3h-1zM628 109h3v3h-3zM634 109h3v3h-3zM640 109h3v3h-3zM625 112h3v3h-3zM631 112h3v3h-3zM637 112h3v3h-3zM643 112h1v3h-1zM628 115h3v3h-3zM634 115h3v3h-3zM640 115h3v3h-3zM625 118h3v3h-3zM631 118h3v3h-3zM637 118h3v3h-3zM643 118h1v3h-1zM628 121h3v3h-3zM634 121h3v3h-3zM640 121h3v3h-3zM625 124h3v3h-3zM631 124h3v3h-3zM637 124h3v3h-3zM643 124h1v3h-1zM628 127h3v3h-3zM634 127h3v3h-3zM640 127h3v3h-3zM625 130h3v3h-3zM631 130h3v3h-3zM637 130h3v3h-3zM643 130h1v3h-1zM628 133h3v3h-3zM634 133h3v3h-3zM640 133h3v3h-3zM625 136h3v3h-3zM631 136h3v3h-3zM637 136h3v3h-3zM643 136h1v3h-1zM628 139h3v3h-3zM634 139h3v3h-3zM640 139h3v3h-3zM625 142h3v3h-3zM631 142h3v3h-3zM637 142h3v3h-3zM643 142h1v3h-1zM628 145h3v3h-3zM634 145h3v3h-3zM640 145h3v3h-3zM625 148h3v3h-3zM631 148h3v3h-3zM637 148h3v3h-3zM643 148h1v3h-1zM628 151h3v3h-3zM634 151h3v3h-3zM640 151h3v3h-3zM625 154h3v3h-3zM631 154h3v3h-3zM637 154h3v3h-3zM643 154h1v3h-1zM628 157h3v3h-3zM634 157h3v3h-3zM640 157h3v3h-3zM625 160h3v3h-3zM631 160h3v3h-3zM637 160h3v3h-3zM643 160h1v3h-1zM628 163h3v3h-3zM634 163h3v3h-3zM640 163h3v3h-3zM625 166h3v3h-3zM631 166h3v3h-3zM637 166h3v3h-3zM643 166h1v3h-1zM628 169h3v3h-3zM634 169h3v3h-3zM640 169h3v3h-3zM625 172h3v3h-3zM631 172h3v3h-3zM637 172h3v3h-3zM643 172h1v3h-1zM628 175h3v3h-3zM634 175h3v3h-3zM640 175h3v3h-3zM625 178h3v3h-3zM631 178h3v3h-3zM637 178h3v3h-3zM643 178h1v3h-1zM628 181h3v3h-3zM634 181h3v3h-3zM640 181h3v3h-3zM625 184h3v3h-3zM631 184h3v3h-3zM637 184h3v3h-3zM643 184h1v3h-1zM628 187h3v3h-3zM634 187h3v3h-3zM640 187h3v3h-3zM625 190h3v3h-3zM631 190h3v3h-3zM637 190h3v3h-3zM643 190h1v3h-1zM628 193h3v3h-3zM634 193h3v3h-3zM640 193h3v3h-3zM625 196h3v3h-3zM631 196h3v3h-3zM637 196h3v3h-3zM643 196h1v3h-1zM628 199h3v3h-3zM634 199h3v3h-3zM640 199h3v3h-3zM625 202h3v2h-3zM631 202h3v2h-3zM637 202h3v2h-3zM643 202h1v2h-1z" fill="#000"/>
<rect x="624.5" y="63.5" width="20.0" height="141.0" fill="none" stroke="#000" stroke-width="1"/>
<line x1="401.80" y1="6.50" x2="401.80" y2="205.00" stroke="#555" stroke-width="1.4" />
<line x1="401.10" y1="204.40" x2="665.30" y2="204.40" stroke="#555" stroke-width="1.2" />
<line x1="665.30" y1="6.50" x2="665.30" y2="205.00" stroke="#666" stroke-width="1.4" />
<line x1="665.30" y1="204.20" x2="668.30" y2="204.20" stroke="#666" stroke-width="1.2" />
<line x1="665.30" y1="179.49" x2="668.30" y2="179.49" stroke="#666" stroke-width="1.2" />
<line x1="665.30" y1="154.78" x2="668.30" y2="154.78" stroke="#666" stroke-width="1.2" />
<line x1="665.30" y1="130.07" x2="668.30" y2="130.07" stroke="#666" stroke-width="1.2" />
<line x1="665.30" y1="105.36" x2="668.30" y2="105.36" stroke="#666" stroke-width="1.2" />
<line x1="665.30" y1="80.65" x2="668.30" y2="80.65" stroke="#666" stroke-width="1.2" />
<line x1="665.30" y1="55.94" x2="668.30" y2="55.94" stroke="#666" stroke-width="1.2" />
<line x1="665.30" y1="31.23" x2="668.30" y2="31.23" stroke="#666" stroke-width="1.2" />
<line x1="665.30" y1="6.52" x2="668.30" y2="6.52" stroke="#666" stroke-width="1.2" />
<polyline points="445.9,203.7 534.1,145.9 621.6,96.2" fill="none" stroke="#000" stroke-width="2.5" stroke-linejoin="round"/>
<polyline points="445.9,20.1 534.1,91.5 621.6,87.3" fill="none" stroke="#000" stroke-width="2.3" stroke-dasharray="0.01 4.7" stroke-linecap="round"/>
<circle cx="445.9" cy="203.7" r="2.8" fill="#000"/>
<circle cx="534.1" cy="145.9" r="2.8" fill="#000"/>
<circle cx="621.6" cy="96.2" r="2.8" fill="#000"/>
<circle cx="445.9" cy="20.1" r="2.8" fill="#000"/>
<circle cx="534.1" cy="91.5" r="2.8" fill="#000"/>
<circle cx="621.6" cy="87.3" r="2.8" fill="#000"/>
<text x="445.4" y="221.8" font-size="11.5" fill="#000" stroke="#000" stroke-width="0.1" font-weight="bold" text-anchor="middle" >SSD</text>
<text x="533.9" y="221.8" font-size="11.5" fill="#000" stroke="#000" stroke-width="0.1" font-weight="bold" text-anchor="middle" >SGD</text>
<text x="620.9" y="221.8" font-size="11.5" fill="#000" stroke="#000" stroke-width="0.1" font-weight="bold" text-anchor="middle" >SID</text>
<text x="432.5" y="24.8" font-size="11.5" fill="#595959" stroke="#595959" stroke-width="0.3" font-weight="normal" text-anchor="middle" >A</text>
<text x="452.9" y="12.2" font-size="11.5" fill="#595959" stroke="#595959" stroke-width="0.3" font-weight="normal" text-anchor="middle" >a</text>
<text x="447.0" y="191.0" font-size="11.5" fill="#595959" stroke="#595959" stroke-width="0.3" font-weight="normal" text-anchor="middle" >b</text>
<text x="458.3" y="184.8" font-size="11.5" fill="#595959" stroke="#595959" stroke-width="0.3" font-weight="normal" text-anchor="middle" >B</text>
<text x="537.0" y="73.0" font-size="11.5" fill="#595959" stroke="#595959" stroke-width="0.3" font-weight="normal" text-anchor="middle" >c</text>
<text x="520.4" y="99.7" font-size="11.5" fill="#595959" stroke="#595959" stroke-width="0.3" font-weight="normal" text-anchor="middle" >C</text>
<text x="538.4" y="134.0" font-size="11.5" fill="#595959" stroke="#595959" stroke-width="0.3" font-weight="normal" text-anchor="middle" >d</text>
<text x="545.4" y="138.4" font-size="11.5" fill="#595959" stroke="#595959" stroke-width="0.3" font-weight="normal" text-anchor="middle" >D</text>
<text x="607.9" y="98.1" font-size="11.5" fill="#595959" stroke="#595959" stroke-width="0.3" font-weight="normal" text-anchor="middle" >C</text>
<text x="621.5" y="62.1" font-size="11.5" fill="#595959" stroke="#595959" stroke-width="0.3" font-weight="normal" text-anchor="middle" >e</text>
<text x="621.5" y="75.6" font-size="11.5" fill="#595959" stroke="#595959" stroke-width="0.3" font-weight="normal" text-anchor="middle" >e</text>
<text x="633.0" y="56.7" font-size="11.5" fill="#595959" stroke="#595959" stroke-width="0.3" font-weight="normal" text-anchor="middle" >E</text>
<rect x="414.5" y="234.5" width="26.0" height="6.0" fill="#fff"/>
<path d="M417 236h1v1h-1zM423 236h1v1h-1zM429 236h1v1h-1zM436 236h1v1h-1zM420 239h1v1h-1zM426 239h1v1h-1zM433 239h1v1h-1zM439 239h1v1h-1z" fill="#777"/>
<rect x="414.5" y="234.5" width="26.0" height="6.0" fill="none" stroke="#595959" stroke-width="1"/>
<text x="443.0" y="240.3" font-size="12.3" fill="#222" stroke="#222" stroke-width="0.3" font-weight="normal" text-anchor="start" >ABTS (Control)</text>
<rect x="554" y="233" width="27" height="7" fill="#fff"/>
<path d="M554 233h3v4h-3zM561 233h3v4h-3zM568 233h3v4h-3zM574 233h4v4h-4zM557 237h4v3h-4zM564 237h4v3h-4zM571 237h3v3h-3zM578 237h3v3h-3z" fill="#000"/>
<rect x="554.25" y="233.25" width="26.5" height="6.5" fill="none" stroke="#333" stroke-width="0.5"/>
<text x="583.2" y="240.3" font-size="12.5" fill="#222" stroke="#222" stroke-width="0.3" font-weight="normal" text-anchor="start" >ABTS(DE)</text>
<line x1="413.40" y1="253.00" x2="440.50" y2="253.00" stroke="#000" stroke-width="2.5" />
<circle cx="427" cy="253" r="2.8" fill="#000"/>
<text x="443.0" y="256.7" font-size="12.3" fill="#222" stroke="#222" stroke-width="0.3" font-weight="normal" text-anchor="start" >DPPH (DE)</text>
<line x1="554" y1="253" x2="580" y2="253" stroke="#000" stroke-width="2.3" stroke-dasharray="0.01 4.7" stroke-linecap="round"/>
<circle cx="567.5" cy="253" r="2.8" fill="#000"/>
<text x="583.7" y="256.7" font-size="12.3" fill="#222" stroke="#222" stroke-width="0.3" font-weight="normal" text-anchor="start" >DPPH (Control)</text>
<text x="2.0" y="272.5" font-size="16" fill="#000" stroke="#000" stroke-width="0.1" font-weight="bold" text-anchor="start" >C</text>
<text x="29.8" y="474.8" font-size="10.5" fill="#333" stroke="#333" stroke-width="0.3" font-weight="normal" text-anchor="end" >0</text>
<text x="29.8" y="448.9" font-size="10.5" fill="#333" stroke="#333" stroke-width="0.3" font-weight="normal" text-anchor="end" >1</text>
<text x="29.8" y="423.0" font-size="10.5" fill="#333" stroke="#333" stroke-width="0.3" font-weight="normal" text-anchor="end" >2</text>
<text x="29.8" y="397.1" font-size="10.5" fill="#333" stroke="#333" stroke-width="0.3" font-weight="normal" text-anchor="end" >3</text>
<text x="29.8" y="371.2" font-size="10.5" fill="#333" stroke="#333" stroke-width="0.3" font-weight="normal" text-anchor="end" >4</text>
<text x="29.8" y="345.3" font-size="10.5" fill="#333" stroke="#333" stroke-width="0.3" font-weight="normal" text-anchor="end" >5</text>
<text x="29.8" y="319.4" font-size="10.5" fill="#333" stroke="#333" stroke-width="0.3" font-weight="normal" text-anchor="end" >6</text>
<text x="29.8" y="293.5" font-size="10.5" fill="#333" stroke="#333" stroke-width="0.3" font-weight="normal" text-anchor="end" >7</text>
<text x="29.8" y="267.6" font-size="10.5" fill="#333" stroke="#333" stroke-width="0.3" font-weight="normal" text-anchor="end" >8</text>
<text transform="translate(8.0,386.5) rotate(-90)" x="0" y="0" font-size="12.1" fill="#000" font-weight="bold" text-anchor="middle" dominant-baseline="central">FRAP (mM/mL)</text>
<rect x="64.5" y="285.5" width="24.0" height="186.0" fill="#fff"/>
<path d="M67 287h1v1h-1zM73 287h1v1h-1zM80 287h1v1h-1zM86 287h1v1h-1zM70 290h1v1h-1zM76 290h1v1h-1zM83 290h1v1h-1zM67 293h1v1h-1zM73 293h1v1h-1zM80 293h1v1h-1zM86 293h1v1h-1zM70 296h1v1h-1zM76 296h1v1h-1zM83 296h1v1h-1zM67 299h1v1h-1zM73 299h1v1h-1zM80 299h1v1h-1zM86 299h1v1h-1zM70 303h1v1h-1zM76 303h1v1h-1zM83 303h1v1h-1zM67 306h1v1h-1zM73 306h1v1h-1zM80 306h1v1h-1zM86 306h1v1h-1zM70 309h1v1h-1zM76 309h1v1h-1zM83 309h1v1h-1zM67 312h1v1h-1zM73 312h1v1h-1zM80 312h1v1h-1zM86 312h1v1h-1zM70 315h1v1h-1zM76 315h1v1h-1zM83 315h1v1h-1zM67 318h1v1h-1zM73 318h1v1h-1zM80 318h1v1h-1zM86 318h1v1h-1zM70 321h1v1h-1zM76 321h1v1h-1zM83 321h1v1h-1zM67 324h1v1h-1zM73 324h1v1h-1zM80 324h1v1h-1zM86 324h1v1h-1zM70 327h1v1h-1zM76 327h1v1h-1zM83 327h1v1h-1zM67 330h1v1h-1zM73 330h1v1h-1zM80 330h1v1h-1zM86 330h1v1h-1zM70 333h1v1h-1zM76 333h1v1h-1zM83 333h1v1h-1zM67 337h1v1h-1zM73 337h1v1h-1zM80 337h1v1h-1zM86 337h1v1h-1zM70 340h1v1h-1zM76 340h1v1h-1zM83 340h1v1h-1zM67 343h1v1h-1zM73 343h1v1h-1zM80 343h1v1h-1zM86 343h1v1h-1zM70 346h1v1h-1zM76 346h1v1h-1zM83 346h1v1h-1zM67 349h1v1h-1zM73 349h1v1h-1zM80 349h1v1h-1zM86 349h1v1h-1zM70 352h1v1h-1zM76 352h1v1h-1zM83 352h1v1h-1zM67 355h1v1h-1zM73 355h1v1h-1zM80 355h1v1h-1zM86 355h1v1h-1zM70 358h1v1h-1zM76 358h1v1h-1zM83 358h1v1h-1zM67 361h1v1h-1zM73 361h1v1h-1zM80 361h1v1h-1zM86 361h1v1h-1zM70 365h1v1h-1zM76 365h1v1h-1zM83 365h1v1h-1zM67 368h1v1h-1zM73 368h1v1h-1zM80 368h1v1h-1zM86 368h1v1h-1zM70 371h1v1h-1zM76 371h1v1h-1zM83 371h1v1h-1zM67 374h1v1h-1zM73 374h1v1h-1zM80 374h1v1h-1zM86 374h1v1h-1zM70 377h1v1h-1zM76 377h1v1h-1zM83 377h1v1h-1zM67 380h1v1h-1zM73 380h1v1h-1zM80 380h1v1h-1zM86 380h1v1h-1zM70 383h1v1h-1zM76 383h1v1h-1zM83 383h1v1h-1zM67 386h1v1h-1zM73 386h1v1h-1zM80 386h1v1h-1zM86 386h1v1h-1zM70 389h1v1h-1zM76 389h1v1h-1zM83 389h1v1h-1zM67 392h1v1h-1zM73 392h1v1h-1zM80 392h1v1h-1zM86 392h1v1h-1zM70 395h1v1h-1zM76 395h1v1h-1zM83 395h1v1h-1zM67 399h1v1h-1zM73 399h1v1h-1zM80 399h1v1h-1zM86 399h1v1h-1zM70 402h1v1h-1zM76 402h1v1h-1zM83 402h1v1h-1zM67 405h1v1h-1zM73 405h1v1h-1zM80 405h1v1h-1zM86 405h1v1h-1zM70 408h1v1h-1zM76 408h1v1h-1zM83 408h1v1h-1zM67 411h1v1h-1zM73 411h1v1h-1zM80 411h1v1h-1zM86 411h1v1h-1zM70 414h1v1h-1zM76 414h1v1h-1zM83 414h1v1h-1zM67 417h1v1h-1zM73 417h1v1h-1zM80 417h1v1h-1zM86 417h1v1h-1zM70 420h1v1h-1zM76 420h1v1h-1zM83 420h1v1h-1zM67 423h1v1h-1zM73 423h1v1h-1zM80 423h1v1h-1zM86 423h1v1h-1zM70 427h1v1h-1zM76 427h1v1h-1zM83 427h1v1h-1zM67 430h1v1h-1zM73 430h1v1h-1zM80 430h1v1h-1zM86 430h1v1h-1zM70 433h1v1h-1zM76 433h1v1h-1zM83 433h1v1h-1zM67 436h1v1h-1zM73 436h1v1h-1zM80 436h1v1h-1zM86 436h1v1h-1zM70 439h1v1h-1zM76 439h1v1h-1zM83 439h1v1h-1zM67 442h1v1h-1zM73 442h1v1h-1zM80 442h1v1h-1zM86 442h1v1h-1zM70 445h1v1h-1zM76 445h1v1h-1zM83 445h1v1h-1zM67 448h1v1h-1zM73 448h1v1h-1zM80 448h1v1h-1zM86 448h1v1h-1zM70 451h1v1h-1zM76 451h1v1h-1zM83 451h1v1h-1zM67 454h1v1h-1zM73 454h1v1h-1zM80 454h1v1h-1zM86 454h1v1h-1zM70 457h1v1h-1zM76 457h1v1h-1zM83 457h1v1h-1zM67 461h1v1h-1zM73 461h1v1h-1zM80 461h1v1h-1zM86 461h1v1h-1zM70 464h1v1h-1zM76 464h1v1h-1zM83 464h1v1h-1zM67 467h1v1h-1zM73 467h1v1h-1zM80 467h1v1h-1zM86 467h1v1h-1zM70 470h1v1h-1zM76 470h1v1h-1zM83 470h1v1h-1z" fill="#777"/>
<rect x="64.5" y="285.5" width="24.0" height="186.0" fill="none" stroke="#404040" stroke-width="1"/>
<rect x="94.5" y="455.5" width="24.0" height="16.0" fill="#fff"/>
<path d="M95 456h3v3h-3zM101 456h3v3h-3zM107 456h3v3h-3zM113 456h3v3h-3zM98 459h3v3h-3zM104 459h3v3h-3zM110 459h3v3h-3zM116 459h2v3h-2zM95 462h3v3h-3zM101 462h3v3h-3zM107 462h3v3h-3zM113 462h3v3h-3zM98 465h3v3h-3zM104 465h3v3h-3zM110 465h3v3h-3zM116 465h2v3h-2zM95 468h3v3h-3zM101 468h3v3h-3zM107 468h3v3h-3zM113 468h3v3h-3z" fill="#000"/>
<rect x="94.5" y="455.5" width="24.0" height="16.0" fill="none" stroke="#000" stroke-width="1"/>
<rect x="169.5" y="356.5" width="24.0" height="115.0" fill="#fff"/>
<path d="M172 358h1v1h-1zM178 358h1v1h-1zM185 358h1v1h-1zM191 358h1v1h-1zM175 361h1v1h-1zM181 361h1v1h-1zM188 361h1v1h-1zM172 364h1v1h-1zM178 364h1v1h-1zM185 364h1v1h-1zM191 364h1v1h-1zM175 367h1v1h-1zM181 367h1v1h-1zM188 367h1v1h-1zM172 370h1v1h-1zM178 370h1v1h-1zM185 370h1v1h-1zM191 370h1v1h-1zM175 374h1v1h-1zM181 374h1v1h-1zM188 374h1v1h-1zM172 377h1v1h-1zM178 377h1v1h-1zM185 377h1v1h-1zM191 377h1v1h-1zM175 380h1v1h-1zM181 380h1v1h-1zM188 380h1v1h-1zM172 383h1v1h-1zM178 383h1v1h-1zM185 383h1v1h-1zM191 383h1v1h-1zM175 386h1v1h-1zM181 386h1v1h-1zM188 386h1v1h-1zM172 389h1v1h-1zM178 389h1v1h-1zM185 389h1v1h-1zM191 389h1v1h-1zM175 392h1v1h-1zM181 392h1v1h-1zM188 392h1v1h-1zM172 395h1v1h-1zM178 395h1v1h-1zM185 395h1v1h-1zM191 395h1v1h-1zM175 398h1v1h-1zM181 398h1v1h-1zM188 398h1v1h-1zM172 401h1v1h-1zM178 401h1v1h-1zM185 401h1v1h-1zM191 401h1v1h-1zM175 404h1v1h-1zM181 404h1v1h-1zM188 404h1v1h-1zM172 408h1v1h-1zM178 408h1v1h-1zM185 408h1v1h-1zM191 408h1v1h-1zM175 411h1v1h-1zM181 411h1v1h-1zM188 411h1v1h-1zM172 414h1v1h-1zM178 414h1v1h-1zM185 414h1v1h-1zM191 414h1v1h-1zM175 417h1v1h-1zM181 417h1v1h-1zM188 417h1v1h-1zM172 420h1v1h-1zM178 420h1v1h-1zM185 420h1v1h-1zM191 420h1v1h-1zM175 423h1v1h-1zM181 423h1v1h-1zM188 423h1v1h-1zM172 426h1v1h-1zM178 426h1v1h-1zM185 426h1v1h-1zM191 426h1v1h-1zM175 429h1v1h-1zM181 429h1v1h-1zM188 429h1v1h-1zM172 432h1v1h-1zM178 432h1v1h-1zM185 432h1v1h-1zM191 432h1v1h-1zM175 436h1v1h-1zM181 436h1v1h-1zM188 436h1v1h-1zM172 439h1v1h-1zM178 439h1v1h-1zM185 439h1v1h-1zM191 439h1v1h-1zM175 442h1v1h-1zM181 442h1v1h-1zM188 442h1v1h-1zM172 445h1v1h-1zM178 445h1v1h-1zM185 445h1v1h-1zM191 445h1v1h-1zM175 448h1v1h-1zM181 448h1v1h-1zM188 448h1v1h-1zM172 451h1v1h-1zM178 451h1v1h-1zM185 451h1v1h-1zM191 451h1v1h-1zM175 454h1v1h-1zM181 454h1v1h-1zM188 454h1v1h-1zM172 457h1v1h-1zM178 457h1v1h-1zM185 457h1v1h-1zM191 457h1v1h-1zM175 460h1v1h-1zM181 460h1v1h-1zM188 460h1v1h-1zM172 463h1v1h-1zM178 463h1v1h-1zM185 463h1v1h-1zM191 463h1v1h-1zM175 466h1v1h-1zM181 466h1v1h-1zM188 466h1v1h-1zM172 470h1v1h-1zM178 470h1v1h-1zM185 470h1v1h-1zM191 470h1v1h-1z" fill="#777"/>
<rect x="169.5" y="356.5" width="24.0" height="115.0" fill="none" stroke="#404040" stroke-width="1"/>
<rect x="199.5" y="398.5" width="24.0" height="73.0" fill="#fff"/>
<path d="M200 399h3v3h-3zM206 399h3v3h-3zM212 399h3v3h-3zM218 399h3v3h-3zM203 402h3v3h-3zM209 402h3v3h-3zM215 402h3v3h-3zM221 402h2v3h-2zM200 405h3v3h-3zM206 405h3v3h-3zM212 405h3v3h-3zM218 405h3v3h-3zM203 408h3v3h-3zM209 408h3v3h-3zM215 408h3v3h-3zM221 408h2v3h-2zM200 411h3v3h-3zM206 411h3v3h-3zM212 411h3v3h-3zM218 411h3v3h-3zM203 414h3v3h-3zM209 414h3v3h-3zM215 414h3v3h-3zM221 414h2v3h-2zM200 417h3v3h-3zM206 417h3v3h-3zM212 417h3v3h-3zM218 417h3v3h-3zM203 420h3v3h-3zM209 420h3v3h-3zM215 420h3v3h-3zM221 420h2v3h-2zM200 423h3v3h-3zM206 423h3v3h-3zM212 423h3v3h-3zM218 423h3v3h-3zM203 426h3v3h-3zM209 426h3v3h-3zM215 426h3v3h-3zM221 426h2v3h-2zM200 429h3v3h-3zM206 429h3v3h-3zM212 429h3v3h-3zM218 429h3v3h-3zM203 432h3v3h-3zM209 432h3v3h-3zM215 432h3v3h-3zM221 432h2v3h-2zM200 435h3v3h-3zM206 435h3v3h-3zM212 435h3v3h-3zM218 435h3v3h-3zM203 438h3v3h-3zM209 438h3v3h-3zM215 438h3v3h-3zM221 438h2v3h-2zM200 441h3v3h-3zM206 441h3v3h-3zM212 441h3v3h-3zM218 441h3v3h-3zM203 444h3v3h-3zM209 444h3v3h-3zM215 444h3v3h-3zM221 444h2v3h-2zM200 447h3v3h-3zM206 447h3v3h-3zM212 447h3v3h-3zM218 447h3v3h-3zM203 450h3v3h-3zM209 450h3v3h-3zM215 450h3v3h-3zM221 450h2v3h-2zM200 453h3v3h-3zM206 453h3v3h-3zM212 453h3v3h-3zM218 453h3v3h-3zM203 456h3v3h-3zM209 456h3v3h-3zM215 456h3v3h-3zM221 456h2v3h-2zM200 459h3v3h-3zM206 459h3v3h-3zM212 459h3v3h-3zM218 459h3v3h-3zM203 462h3v3h-3zM209 462h3v3h-3zM215 462h3v3h-3zM221 462h2v3h-2zM200 465h3v3h-3zM206 465h3v3h-3zM212 465h3v3h-3zM218 465h3v3h-3zM203 468h3v3h-3zM209 468h3v3h-3zM215 468h3v3h-3zM221 468h2v3h-2z" fill="#000"/>
<rect x="199.5" y="398.5" width="24.0" height="73.0" fill="none" stroke="#000" stroke-width="1"/>
<rect x="273.5" y="312.5" width="24.0" height="159.0" fill="#fff"/>
<path d="M276 314h1v1h-1zM282 314h1v1h-1zM289 314h1v1h-1zM295 314h1v1h-1zM279 317h1v1h-1zM285 317h1v1h-1zM292 317h1v1h-1zM276 320h1v1h-1zM282 320h1v1h-1zM289 320h1v1h-1zM295 320h1v1h-1zM279 323h1v1h-1zM285 323h1v1h-1zM292 323h1v1h-1zM276 326h1v1h-1zM282 326h1v1h-1zM289 326h1v1h-1zM295 326h1v1h-1zM279 330h1v1h-1zM285 330h1v1h-1zM292 330h1v1h-1zM276 333h1v1h-1zM282 333h1v1h-1zM289 333h1v1h-1zM295 333h1v1h-1zM279 336h1v1h-1zM285 336h1v1h-1zM292 336h1v1h-1zM276 339h1v1h-1zM282 339h1v1h-1zM289 339h1v1h-1zM295 339h1v1h-1zM279 342h1v1h-1zM285 342h1v1h-1zM292 342h1v1h-1zM276 345h1v1h-1zM282 345h1v1h-1zM289 345h1v1h-1zM295 345h1v1h-1zM279 348h1v1h-1zM285 348h1v1h-1zM292 348h1v1h-1zM276 351h1v1h-1zM282 351h1v1h-1zM289 351h1v1h-1zM295 351h1v1h-1zM279 354h1v1h-1zM285 354h1v1h-1zM292 354h1v1h-1zM276 357h1v1h-1zM282 357h1v1h-1zM289 357h1v1h-1zM295 357h1v1h-1zM279 360h1v1h-1zM285 360h1v1h-1zM292 360h1v1h-1zM276 364h1v1h-1zM282 364h1v1h-1zM289 364h1v1h-1zM295 364h1v1h-1zM279 367h1v1h-1zM285 367h1v1h-1zM292 367h1v1h-1zM276 370h1v1h-1zM282 370h1v1h-1zM289 370h1v1h-1zM295 370h1v1h-1zM279 373h1v1h-1zM285 373h1v1h-1zM292 373h1v1h-1zM276 376h1v1h-1zM282 376h1v1h-1zM289 376h1v1h-1zM295 376h1v1h-1zM279 379h1v1h-1zM285 379h1v1h-1zM292 379h1v1h-1zM276 382h1v1h-1zM282 382h1v1h-1zM289 382h1v1h-1zM295 382h1v1h-1zM279 385h1v1h-1zM285 385h1v1h-1zM292 385h1v1h-1zM276 388h1v1h-1zM282 388h1v1h-1zM289 388h1v1h-1zM295 388h1v1h-1zM279 392h1v1h-1zM285 392h1v1h-1zM292 392h1v1h-1zM276 395h1v1h-1zM282 395h1v1h-1zM289 395h1v1h-1zM295 395h1v1h-1zM279 398h1v1h-1zM285 398h1v1h-1zM292 398h1v1h-1zM276 401h1v1h-1zM282 401h1v1h-1zM289 401h1v1h-1zM295 401h1v1h-1zM279 404h1v1h-1zM285 404h1v1h-1zM292 404h1v1h-1zM276 407h1v1h-1zM282 407h1v1h-1zM289 407h1v1h-1zM295 407h1v1h-1zM279 410h1v1h-1zM285 410h1v1h-1zM292 410h1v1h-1zM276 413h1v1h-1zM282 413h1v1h-1zM289 413h1v1h-1zM295 413h1v1h-1zM279 416h1v1h-1zM285 416h1v1h-1zM292 416h1v1h-1zM276 419h1v1h-1zM282 419h1v1h-1zM289 419h1v1h-1zM295 419h1v1h-1zM279 422h1v1h-1zM285 422h1v1h-1zM292 422h1v1h-1zM276 426h1v1h-1zM282 426h1v1h-1zM289 426h1v1h-1zM295 426h1v1h-1zM279 429h1v1h-1zM285 429h1v1h-1zM292 429h1v1h-1zM276 432h1v1h-1zM282 432h1v1h-1zM289 432h1v1h-1zM295 432h1v1h-1zM279 435h1v1h-1zM285 435h1v1h-1zM292 435h1v1h-1zM276 438h1v1h-1zM282 438h1v1h-1zM289 438h1v1h-1zM295 438h1v1h-1zM279 441h1v1h-1zM285 441h1v1h-1zM292 441h1v1h-1zM276 444h1v1h-1zM282 444h1v1h-1zM289 444h1v1h-1zM295 444h1v1h-1zM279 447h1v1h-1zM285 447h1v1h-1zM292 447h1v1h-1zM276 450h1v1h-1zM282 450h1v1h-1zM289 450h1v1h-1zM295 450h1v1h-1zM279 454h1v1h-1zM285 454h1v1h-1zM292 454h1v1h-1zM276 457h1v1h-1zM282 457h1v1h-1zM289 457h1v1h-1zM295 457h1v1h-1zM279 460h1v1h-1zM285 460h1v1h-1zM292 460h1v1h-1zM276 463h1v1h-1zM282 463h1v1h-1zM289 463h1v1h-1zM295 463h1v1h-1zM279 466h1v1h-1zM285 466h1v1h-1zM292 466h1v1h-1zM276 469h1v1h-1zM282 469h1v1h-1zM289 469h1v1h-1zM295 469h1v1h-1z" fill="#777"/>
<rect x="273.5" y="312.5" width="24.0" height="159.0" fill="none" stroke="#404040" stroke-width="1"/>
<rect x="303.5" y="307.5" width="24.0" height="164.0" fill="#fff"/>
<path d="M304 308h3v3h-3zM310 308h3v3h-3zM316 308h3v3h-3zM322 308h3v3h-3zM307 311h3v3h-3zM313 311h3v3h-3zM319 311h3v3h-3zM325 311h2v3h-2zM304 314h3v3h-3zM310 314h3v3h-3zM316 314h3v3h-3zM322 314h3v3h-3zM307 317h3v3h-3zM313 317h3v3h-3zM319 317h3v3h-3zM325 317h2v3h-2zM304 320h3v3h-3zM310 320h3v3h-3zM316 320h3v3h-3zM322 320h3v3h-3zM307 323h3v3h-3zM313 323h3v3h-3zM319 323h3v3h-3zM325 323h2v3h-2zM304 326h3v3h-3zM310 326h3v3h-3zM316 326h3v3h-3zM322 326h3v3h-3zM307 329h3v3h-3zM313 329h3v3h-3zM319 329h3v3h-3zM325 329h2v3h-2zM304 332h3v3h-3zM310 332h3v3h-3zM316 332h3v3h-3zM322 332h3v3h-3zM307 335h3v3h-3zM313 335h3v3h-3zM319 335h3v3h-3zM325 335h2v3h-2zM304 338h3v3h-3zM310 338h3v3h-3zM316 338h3v3h-3zM322 338h3v3h-3zM307 341h3v3h-3zM313 341h3v3h-3zM319 341h3v3h-3zM325 341h2v3h-2zM304 344h3v3h-3zM310 344h3v3h-3zM316 344h3v3h-3zM322 344h3v3h-3zM307 347h3v3h-3zM313 347h3v3h-3zM319 347h3v3h-3zM325 347h2v3h-2zM304 350h3v3h-3zM310 350h3v3h-3zM316 350h3v3h-3zM322 350h3v3h-3zM307 353h3v3h-3zM313 353h3v3h-3zM319 353h3v3h-3zM325 353h2v3h-2zM304 356h3v3h-3zM310 356h3v3h-3zM316 356h3v3h-3zM322 356h3v3h-3zM307 359h3v3h-3zM313 359h3v3h-3zM319 359h3v3h-3zM325 359h2v3h-2zM304 362h3v3h-3zM310 362h3v3h-3zM316 362h3v3h-3zM322 362h3v3h-3zM307 365h3v3h-3zM313 365h3v3h-3zM319 365h3v3h-3zM325 365h2v3h-2zM304 368h3v3h-3zM310 368h3v3h-3zM316 368h3v3h-3zM322 368h3v3h-3zM307 371h3v3h-3zM313 371h3v3h-3zM319 371h3v3h-3zM325 371h2v3h-2zM304 374h3v3h-3zM310 374h3v3h-3zM316 374h3v3h-3zM322 374h3v3h-3zM307 377h3v3h-3zM313 377h3v3h-3zM319 377h3v3h-3zM325 377h2v3h-2zM304 380h3v3h-3zM310 380h3v3h-3zM316 380h3v3h-3zM322 380h3v3h-3zM307 383h3v3h-3zM313 383h3v3h-3zM319 383h3v3h-3zM325 383h2v3h-2zM304 386h3v3h-3zM310 386h3v3h-3zM316 386h3v3h-3zM322 386h3v3h-3zM307 389h3v3h-3zM313 389h3v3h-3zM319 389h3v3h-3zM325 389h2v3h-2zM304 392h3v3h-3zM310 392h3v3h-3zM316 392h3v3h-3zM322 392h3v3h-3zM307 395h3v3h-3zM313 395h3v3h-3zM319 395h3v3h-3zM325 395h2v3h-2zM304 398h3v3h-3zM310 398h3v3h-3zM316 398h3v3h-3zM322 398h3v3h-3zM307 401h3v3h-3zM313 401h3v3h-3zM319 401h3v3h-3zM325 401h2v3h-2zM304 404h3v3h-3zM310 404h3v3h-3zM316 404h3v3h-3zM322 404h3v3h-3zM307 407h3v3h-3zM313 407h3v3h-3zM319 407h3v3h-3zM325 407h2v3h-2zM304 410h3v3h-3zM310 410h3v3h-3zM316 410h3v3h-3zM322 410h3v3h-3zM307 413h3v3h-3zM313 413h3v3h-3zM319 413h3v3h-3zM325 413h2v3h-2zM304 416h3v3h-3zM310 416h3v3h-3zM316 416h3v3h-3zM322 416h3v3h-3zM307 419h3v3h-3zM313 419h3v3h-3zM319 419h3v3h-3zM325 419h2v3h-2zM304 422h3v3h-3zM310 422h3v3h-3zM316 422h3v3h-3zM322 422h3v3h-3zM307 425h3v3h-3zM313 425h3v3h-3zM319 425h3v3h-3zM325 425h2v3h-2zM304 428h3v3h-3zM310 428h3v3h-3zM316 428h3v3h-3zM322 428h3v3h-3zM307 431h3v3h-3zM313 431h3v3h-3zM319 431h3v3h-3zM325 431h2v3h-2zM304 434h3v3h-3zM310 434h3v3h-3zM316 434h3v3h-3zM322 434h3v3h-3zM307 437h3v3h-3zM313 437h3v3h-3zM319 437h3v3h-3zM325 437h2v3h-2zM304 440h3v3h-3zM310 440h3v3h-3zM316 440h3v3h-3zM322 440h3v3h-3zM307 443h3v3h-3zM313 443h3v3h-3zM319 443h3v3h-3zM325 443h2v3h-2zM304 446h3v3h-3zM310 446h3v3h-3zM316 446h3v3h-3zM322 446h3v3h-3zM307 449h3v3h-3zM313 449h3v3h-3zM319 449h3v3h-3zM325 449h2v3h-2zM304 452h3v3h-3zM310 452h3v3h-3zM316 452h3v3h-3zM322 452h3v3h-3zM307 455h3v3h-3zM313 455h3v3h-3zM319 455h3v3h-3zM325 455h2v3h-2zM304 458h3v3h-3zM310 458h3v3h-3zM316 458h3v3h-3zM322 458h3v3h-3zM307 461h3v3h-3zM313 461h3v3h-3zM319 461h3v3h-3zM325 461h2v3h-2zM304 464h3v3h-3zM310 464h3v3h-3zM316 464h3v3h-3zM322 464h3v3h-3zM307 467h3v3h-3zM313 467h3v3h-3zM319 467h3v3h-3zM325 467h2v3h-2zM304 470h3v1h-3zM310 470h3v1h-3zM316 470h3v1h-3zM322 470h3v1h-3z" fill="#000"/>
<rect x="303.5" y="307.5" width="24.0" height="164.0" fill="none" stroke="#000" stroke-width="1"/>
<line x1="76.50" y1="279.54" x2="76.50" y2="291.45" stroke="#333" stroke-width="1" />
<line x1="74.00" y1="279.50" x2="79.00" y2="279.50" stroke="#333" stroke-width="1" />
<line x1="74.00" y1="291.50" x2="79.00" y2="291.50" stroke="#333" stroke-width="1" />
<line x1="181.50" y1="349.73" x2="181.50" y2="363.20" stroke="#333" stroke-width="1" />
<line x1="179.00" y1="349.50" x2="184.00" y2="349.50" stroke="#333" stroke-width="1" />
<line x1="179.00" y1="363.50" x2="184.00" y2="363.50" stroke="#333" stroke-width="1" />
<line x1="211.50" y1="391.43" x2="211.50" y2="405.41" stroke="#333" stroke-width="1" />
<line x1="209.00" y1="391.50" x2="214.00" y2="391.50" stroke="#333" stroke-width="1" />
<line x1="209.00" y1="405.50" x2="214.00" y2="405.50" stroke="#333" stroke-width="1" />
<line x1="285.50" y1="309.32" x2="285.50" y2="315.02" stroke="#333" stroke-width="1" />
<line x1="283.00" y1="309.50" x2="288.00" y2="309.50" stroke="#333" stroke-width="1" />
<line x1="283.00" y1="315.50" x2="288.00" y2="315.50" stroke="#333" stroke-width="1" />
<line x1="315.50" y1="303.37" x2="315.50" y2="311.66" stroke="#333" stroke-width="1" />
<line x1="313.00" y1="303.50" x2="318.00" y2="303.50" stroke="#333" stroke-width="1" />
<line x1="313.00" y1="311.50" x2="318.00" y2="311.50" stroke="#333" stroke-width="1" />
<line x1="39.00" y1="264.00" x2="39.00" y2="472.00" stroke="#666" stroke-width="1.6" />
<line x1="38.20" y1="471.30" x2="351.40" y2="471.30" stroke="#444" stroke-width="1.2" />
<text x="91.6" y="489.6" font-size="12" fill="#000" stroke="#000" stroke-width="0.1" font-weight="bold" text-anchor="middle" >SSD</text>
<text x="196.0" y="489.6" font-size="12" fill="#000" stroke="#000" stroke-width="0.1" font-weight="bold" text-anchor="middle" >SGD</text>
<text x="299.9" y="489.6" font-size="12" fill="#000" stroke="#000" stroke-width="0.1" font-weight="bold" text-anchor="middle" >SID</text>
<text x="76.3" y="277.5" font-size="11.5" fill="#333" stroke="#333" stroke-width="0.3" font-weight="normal" text-anchor="middle" >A</text>
<text x="105.6" y="448.0" font-size="11.5" fill="#333" stroke="#333" stroke-width="0.3" font-weight="normal" text-anchor="middle" >B</text>
<text x="181.2" y="349.9" font-size="11.5" fill="#333" stroke="#333" stroke-width="0.3" font-weight="normal" text-anchor="middle" >C</text>
<text x="210.9" y="386.7" font-size="11.5" fill="#333" stroke="#333" stroke-width="0.3" font-weight="normal" text-anchor="middle" >D</text>
<text x="284.5" y="304.8" font-size="11.5" fill="#333" stroke="#333" stroke-width="0.3" font-weight="normal" text-anchor="middle" >E</text>
<text x="314.9" y="299.9" font-size="11.5" fill="#333" stroke="#333" stroke-width="0.3" font-weight="normal" text-anchor="middle" >E</text>
<rect x="110.5" y="502.5" width="7.0" height="7.0" fill="#fff"/>
<path d="M113 504h1v1h-1zM116 507h1v1h-1z" fill="#777"/>
<rect x="110.5" y="502.5" width="7.0" height="7.0" fill="none" stroke="#404040" stroke-width="1"/>
<text x="120.2" y="511.0" font-size="14.3" fill="#222" stroke="#222" stroke-width="0.3" font-weight="normal" text-anchor="start" >Control</text>
<rect x="182.5" y="502.5" width="8.0" height="7.0" fill="#fff"/>
<path d="M183 503h4v3h-4zM187 506h3v3h-3z" fill="#000"/>
<rect x="182.5" y="502.5" width="8.0" height="7.0" fill="none" stroke="#000" stroke-width="1"/>
<text x="191.5" y="511.0" font-size="14.3" fill="#222" stroke="#222" stroke-width="0.3" font-weight="normal" text-anchor="start" >Double Emulsion</text>
<text x="353.8" y="272.5" font-size="16" fill="#000" stroke="#000" stroke-width="0.1" font-weight="bold" text-anchor="start" >D</text>
<text x="384.7" y="471.1" font-size="12" fill="#333" stroke="#333" stroke-width="0.3" font-weight="normal" text-anchor="end" >0</text>
<text x="384.7" y="445.7" font-size="12" fill="#333" stroke="#333" stroke-width="0.3" font-weight="normal" text-anchor="end" >10</text>
<text x="384.7" y="420.4" font-size="12" fill="#333" stroke="#333" stroke-width="0.3" font-weight="normal" text-anchor="end" >20</text>
<text x="384.7" y="395.1" font-size="12" fill="#333" stroke="#333" stroke-width="0.3" font-weight="normal" text-anchor="end" >30</text>
<text x="384.7" y="369.7" font-size="12" fill="#333" stroke="#333" stroke-width="0.3" font-weight="normal" text-anchor="end" >40</text>
<text x="384.7" y="344.4" font-size="12" fill="#333" stroke="#333" stroke-width="0.3" font-weight="normal" text-anchor="end" >50</text>
<text x="384.7" y="319.0" font-size="12" fill="#333" stroke="#333" stroke-width="0.3" font-weight="normal" text-anchor="end" >60</text>
<text x="384.7" y="293.7" font-size="12" fill="#333" stroke="#333" stroke-width="0.3" font-weight="normal" text-anchor="end" >70</text>
<text transform="translate(362.0,403.7) rotate(-90)" x="0" y="0" font-size="12.3" fill="#000" font-weight="bold" text-anchor="middle" dominant-baseline="central">ACE (%)</text>
<rect x="419.5" y="346.5" width="23.0" height="120.0" fill="#fff"/>
<path d="M422 348h1v1h-1zM428 348h1v1h-1zM435 348h1v1h-1zM441 348h1v1h-1zM425 351h1v1h-1zM431 351h1v1h-1zM438 351h1v1h-1zM422 354h1v1h-1zM428 354h1v1h-1zM435 354h1v1h-1zM441 354h1v1h-1zM425 357h1v1h-1zM431 357h1v1h-1zM438 357h1v1h-1zM422 360h1v1h-1zM428 360h1v1h-1zM435 360h1v1h-1zM441 360h1v1h-1zM425 364h1v1h-1zM431 364h1v1h-1zM438 364h1v1h-1zM422 367h1v1h-1zM428 367h1v1h-1zM435 367h1v1h-1zM441 367h1v1h-1zM425 370h1v1h-1zM431 370h1v1h-1zM438 370h1v1h-1zM422 373h1v1h-1zM428 373h1v1h-1zM435 373h1v1h-1zM441 373h1v1h-1zM425 376h1v1h-1zM431 376h1v1h-1zM438 376h1v1h-1zM422 379h1v1h-1zM428 379h1v1h-1zM435 379h1v1h-1zM441 379h1v1h-1zM425 382h1v1h-1zM431 382h1v1h-1zM438 382h1v1h-1zM422 385h1v1h-1zM428 385h1v1h-1zM435 385h1v1h-1zM441 385h1v1h-1zM425 389h1v1h-1zM431 389h1v1h-1zM438 389h1v1h-1zM422 392h1v1h-1zM428 392h1v1h-1zM435 392h1v1h-1zM441 392h1v1h-1zM425 395h1v1h-1zM431 395h1v1h-1zM438 395h1v1h-1zM422 398h1v1h-1zM428 398h1v1h-1zM435 398h1v1h-1zM441 398h1v1h-1zM425 401h1v1h-1zM431 401h1v1h-1zM438 401h1v1h-1zM422 404h1v1h-1zM428 404h1v1h-1zM435 404h1v1h-1zM441 404h1v1h-1zM425 407h1v1h-1zM431 407h1v1h-1zM438 407h1v1h-1zM422 410h1v1h-1zM428 410h1v1h-1zM435 410h1v1h-1zM441 410h1v1h-1zM425 414h1v1h-1zM431 414h1v1h-1zM438 414h1v1h-1zM422 417h1v1h-1zM428 417h1v1h-1zM435 417h1v1h-1zM441 417h1v1h-1zM425 420h1v1h-1zM431 420h1v1h-1zM438 420h1v1h-1zM422 423h1v1h-1zM428 423h1v1h-1zM435 423h1v1h-1zM441 423h1v1h-1zM425 426h1v1h-1zM431 426h1v1h-1zM438 426h1v1h-1zM422 429h1v1h-1zM428 429h1v1h-1zM435 429h1v1h-1zM441 429h1v1h-1zM425 432h1v1h-1zM431 432h1v1h-1zM438 432h1v1h-1zM422 435h1v1h-1zM428 435h1v1h-1zM435 435h1v1h-1zM441 435h1v1h-1zM425 438h1v1h-1zM431 438h1v1h-1zM438 438h1v1h-1zM422 442h1v1h-1zM428 442h1v1h-1zM435 442h1v1h-1zM441 442h1v1h-1zM425 445h1v1h-1zM431 445h1v1h-1zM438 445h1v1h-1zM422 448h1v1h-1zM428 448h1v1h-1zM435 448h1v1h-1zM441 448h1v1h-1zM425 451h1v1h-1zM431 451h1v1h-1zM438 451h1v1h-1zM422 454h1v1h-1zM428 454h1v1h-1zM435 454h1v1h-1zM441 454h1v1h-1zM425 457h1v1h-1zM431 457h1v1h-1zM438 457h1v1h-1zM422 460h1v1h-1zM428 460h1v1h-1zM435 460h1v1h-1zM441 460h1v1h-1zM425 463h1v1h-1zM431 463h1v1h-1zM438 463h1v1h-1z" fill="#777"/>
<rect x="419.5" y="346.5" width="23.0" height="120.0" fill="none" stroke="#404040" stroke-width="1"/>
<rect x="448.5" y="442.5" width="23.0" height="24.0" fill="#fff"/>
<path d="M449 443h3v3h-3zM455 443h3v3h-3zM461 443h3v3h-3zM467 443h3v3h-3zM452 446h3v3h-3zM458 446h3v3h-3zM464 446h3v3h-3zM470 446h1v3h-1zM449 449h3v3h-3zM455 449h3v3h-3zM461 449h3v3h-3zM467 449h3v3h-3zM452 452h3v3h-3zM458 452h3v3h-3zM464 452h3v3h-3zM470 452h1v3h-1zM449 455h3v3h-3zM455 455h3v3h-3zM461 455h3v3h-3zM467 455h3v3h-3zM452 458h3v3h-3zM458 458h3v3h-3zM464 458h3v3h-3zM470 458h1v3h-1zM449 461h3v3h-3zM455 461h3v3h-3zM461 461h3v3h-3zM467 461h3v3h-3zM452 464h3v2h-3zM458 464h3v2h-3zM464 464h3v2h-3zM470 464h1v2h-1z" fill="#000"/>
<rect x="448.5" y="442.5" width="23.0" height="24.0" fill="none" stroke="#000" stroke-width="1"/>
<rect x="521.5" y="337.5" width="23.0" height="129.0" fill="#fff"/>
<path d="M524 339h1v1h-1zM530 339h1v1h-1zM537 339h1v1h-1zM543 339h1v1h-1zM527 342h1v1h-1zM533 342h1v1h-1zM540 342h1v1h-1zM524 345h1v1h-1zM530 345h1v1h-1zM537 345h1v1h-1zM543 345h1v1h-1zM527 348h1v1h-1zM533 348h1v1h-1zM540 348h1v1h-1zM524 351h1v1h-1zM530 351h1v1h-1zM537 351h1v1h-1zM543 351h1v1h-1zM527 355h1v1h-1zM533 355h1v1h-1zM540 355h1v1h-1zM524 358h1v1h-1zM530 358h1v1h-1zM537 358h1v1h-1zM543 358h1v1h-1zM527 361h1v1h-1zM533 361h1v1h-1zM540 361h1v1h-1zM524 364h1v1h-1zM530 364h1v1h-1zM537 364h1v1h-1zM543 364h1v1h-1zM527 367h1v1h-1zM533 367h1v1h-1zM540 367h1v1h-1zM524 370h1v1h-1zM530 370h1v1h-1zM537 370h1v1h-1zM543 370h1v1h-1zM527 373h1v1h-1zM533 373h1v1h-1zM540 373h1v1h-1zM524 376h1v1h-1zM530 376h1v1h-1zM537 376h1v1h-1zM543 376h1v1h-1zM527 380h1v1h-1zM533 380h1v1h-1zM540 380h1v1h-1zM524 383h1v1h-1zM530 383h1v1h-1zM537 383h1v1h-1zM543 383h1v1h-1zM527 386h1v1h-1zM533 386h1v1h-1zM540 386h1v1h-1zM524 389h1v1h-1zM530 389h1v1h-1zM537 389h1v1h-1zM543 389h1v1h-1zM527 392h1v1h-1zM533 392h1v1h-1zM540 392h1v1h-1zM524 395h1v1h-1zM530 395h1v1h-1zM537 395h1v1h-1zM543 395h1v1h-1zM527 398h1v1h-1zM533 398h1v1h-1zM540 398h1v1h-1zM524 401h1v1h-1zM530 401h1v1h-1zM537 401h1v1h-1zM543 401h1v1h-1zM527 405h1v1h-1zM533 405h1v1h-1zM540 405h1v1h-1zM524 408h1v1h-1zM530 408h1v1h-1zM537 408h1v1h-1zM543 408h1v1h-1zM527 411h1v1h-1zM533 411h1v1h-1zM540 411h1v1h-1zM524 414h1v1h-1zM530 414h1v1h-1zM537 414h1v1h-1zM543 414h1v1h-1zM527 417h1v1h-1zM533 417h1v1h-1zM540 417h1v1h-1zM524 420h1v1h-1zM530 420h1v1h-1zM537 420h1v1h-1zM543 420h1v1h-1zM527 423h1v1h-1zM533 423h1v1h-1zM540 423h1v1h-1zM524 426h1v1h-1zM530 426h1v1h-1zM537 426h1v1h-1zM543 426h1v1h-1zM527 429h1v1h-1zM533 429h1v1h-1zM540 429h1v1h-1zM524 433h1v1h-1zM530 433h1v1h-1zM537 433h1v1h-1zM543 433h1v1h-1zM527 436h1v1h-1zM533 436h1v1h-1zM540 436h1v1h-1zM524 439h1v1h-1zM530 439h1v1h-1zM537 439h1v1h-1zM543 439h1v1h-1zM527 442h1v1h-1zM533 442h1v1h-1zM540 442h1v1h-1zM524 445h1v1h-1zM530 445h1v1h-1zM537 445h1v1h-1zM543 445h1v1h-1zM527 448h1v1h-1zM533 448h1v1h-1zM540 448h1v1h-1zM524 451h1v1h-1zM530 451h1v1h-1zM537 451h1v1h-1zM543 451h1v1h-1zM527 454h1v1h-1zM533 454h1v1h-1zM540 454h1v1h-1zM524 458h1v1h-1zM530 458h1v1h-1zM537 458h1v1h-1zM543 458h1v1h-1zM527 461h1v1h-1zM533 461h1v1h-1zM540 461h1v1h-1zM524 464h1v1h-1zM530 464h1v1h-1zM537 464h1v1h-1zM543 464h1v1h-1z" fill="#777"/>
<rect x="521.5" y="337.5" width="23.0" height="129.0" fill="none" stroke="#404040" stroke-width="1"/>
<rect x="550.5" y="378.5" width="23.0" height="88.0" fill="#fff"/>
<path d="M551 379h3v3h-3zM557 379h3v3h-3zM563 379h3v3h-3zM569 379h3v3h-3zM554 382h3v3h-3zM560 382h3v3h-3zM566 382h3v3h-3zM572 382h1v3h-1zM551 385h3v3h-3zM557 385h3v3h-3zM563 385h3v3h-3zM569 385h3v3h-3zM554 388h3v3h-3zM560 388h3v3h-3zM566 388h3v3h-3zM572 388h1v3h-1zM551 391h3v3h-3zM557 391h3v3h-3zM563 391h3v3h-3zM569 391h3v3h-3zM554 394h3v3h-3zM560 394h3v3h-3zM566 394h3v3h-3zM572 394h1v3h-1zM551 397h3v3h-3zM557 397h3v3h-3zM563 397h3v3h-3zM569 397h3v3h-3zM554 400h3v3h-3zM560 400h3v3h-3zM566 400h3v3h-3zM572 400h1v3h-1zM551 403h3v3h-3zM557 403h3v3h-3zM563 403h3v3h-3zM569 403h3v3h-3zM554 406h3v3h-3zM560 406h3v3h-3zM566 406h3v3h-3zM572 406h1v3h-1zM551 409h3v3h-3zM557 409h3v3h-3zM563 409h3v3h-3zM569 409h3v3h-3zM554 412h3v3h-3zM560 412h3v3h-3zM566 412h3v3h-3zM572 412h1v3h-1zM551 415h3v3h-3zM557 415h3v3h-3zM563 415h3v3h-3zM569 415h3v3h-3zM554 418h3v3h-3zM560 418h3v3h-3zM566 418h3v3h-3zM572 418h1v3h-1zM551 421h3v3h-3zM557 421h3v3h-3zM563 421h3v3h-3zM569 421h3v3h-3zM554 424h3v3h-3zM560 424h3v3h-3zM566 424h3v3h-3zM572 424h1v3h-1zM551 427h3v3h-3zM557 427h3v3h-3zM563 427h3v3h-3zM569 427h3v3h-3zM554 430h3v3h-3zM560 430h3v3h-3zM566 430h3v3h-3zM572 430h1v3h-1zM551 433h3v3h-3zM557 433h3v3h-3zM563 433h3v3h-3zM569 433h3v3h-3zM554 436h3v3h-3zM560 436h3v3h-3zM566 436h3v3h-3zM572 436h1v3h-1zM551 439h3v3h-3zM557 439h3v3h-3zM563 439h3v3h-3zM569 439h3v3h-3zM554 442h3v3h-3zM560 442h3v3h-3zM566 442h3v3h-3zM572 442h1v3h-1zM551 445h3v3h-3zM557 445h3v3h-3zM563 445h3v3h-3zM569 445h3v3h-3zM554 448h3v3h-3zM560 448h3v3h-3zM566 448h3v3h-3zM572 448h1v3h-1zM551 451h3v3h-3zM557 451h3v3h-3zM563 451h3v3h-3zM569 451h3v3h-3zM554 454h3v3h-3zM560 454h3v3h-3zM566 454h3v3h-3zM572 454h1v3h-1zM551 457h3v3h-3zM557 457h3v3h-3zM563 457h3v3h-3zM569 457h3v3h-3zM554 460h3v3h-3zM560 460h3v3h-3zM566 460h3v3h-3zM572 460h1v3h-1zM551 463h3v3h-3zM557 463h3v3h-3zM563 463h3v3h-3zM569 463h3v3h-3z" fill="#000"/>
<rect x="550.5" y="378.5" width="23.0" height="88.0" fill="none" stroke="#000" stroke-width="1"/>
<rect x="622.5" y="409.5" width="22.0" height="57.0" fill="#fff"/>
<path d="M625 411h1v1h-1zM631 411h1v1h-1zM638 411h1v1h-1zM628 414h1v1h-1zM634 414h1v1h-1zM641 414h1v1h-1zM625 417h1v1h-1zM631 417h1v1h-1zM638 417h1v1h-1zM628 420h1v1h-1zM634 420h1v1h-1zM641 420h1v1h-1zM625 423h1v1h-1zM631 423h1v1h-1zM638 423h1v1h-1zM628 427h1v1h-1zM634 427h1v1h-1zM641 427h1v1h-1zM625 430h1v1h-1zM631 430h1v1h-1zM638 430h1v1h-1zM628 433h1v1h-1zM634 433h1v1h-1zM641 433h1v1h-1zM625 436h1v1h-1zM631 436h1v1h-1zM638 436h1v1h-1zM628 439h1v1h-1zM634 439h1v1h-1zM641 439h1v1h-1zM625 442h1v1h-1zM631 442h1v1h-1zM638 442h1v1h-1zM628 445h1v1h-1zM634 445h1v1h-1zM641 445h1v1h-1zM625 448h1v1h-1zM631 448h1v1h-1zM638 448h1v1h-1zM628 452h1v1h-1zM634 452h1v1h-1zM641 452h1v1h-1zM625 455h1v1h-1zM631 455h1v1h-1zM638 455h1v1h-1zM628 458h1v1h-1zM634 458h1v1h-1zM641 458h1v1h-1zM625 461h1v1h-1zM631 461h1v1h-1zM638 461h1v1h-1zM628 464h1v1h-1zM634 464h1v1h-1zM641 464h1v1h-1z" fill="#777"/>
<rect x="622.5" y="409.5" width="22.0" height="57.0" fill="none" stroke="#404040" stroke-width="1"/>
<rect x="651.5" y="309.5" width="22.0" height="157.0" fill="#fff"/>
<path d="M652 310h3v3h-3zM658 310h3v3h-3zM664 310h3v3h-3zM670 310h3v3h-3zM655 313h3v3h-3zM661 313h3v3h-3zM667 313h3v3h-3zM652 316h3v3h-3zM658 316h3v3h-3zM664 316h3v3h-3zM670 316h3v3h-3zM655 319h3v3h-3zM661 319h3v3h-3zM667 319h3v3h-3zM652 322h3v3h-3zM658 322h3v3h-3zM664 322h3v3h-3zM670 322h3v3h-3zM655 325h3v3h-3zM661 325h3v3h-3zM667 325h3v3h-3zM652 328h3v3h-3zM658 328h3v3h-3zM664 328h3v3h-3zM670 328h3v3h-3zM655 331h3v3h-3zM661 331h3v3h-3zM667 331h3v3h-3zM652 334h3v3h-3zM658 334h3v3h-3zM664 334h3v3h-3zM670 334h3v3h-3zM655 337h3v3h-3zM661 337h3v3h-3zM667 337h3v3h-3zM652 340h3v3h-3zM658 340h3v3h-3zM664 340h3v3h-3zM670 340h3v3h-3zM655 343h3v3h-3zM661 343h3v3h-3zM667 343h3v3h-3zM652 346h3v3h-3zM658 346h3v3h-3zM664 346h3v3h-3zM670 346h3v3h-3zM655 349h3v3h-3zM661 349h3v3h-3zM667 349h3v3h-3zM652 352h3v3h-3zM658 352h3v3h-3zM664 352h3v3h-3zM670 352h3v3h-3zM655 355h3v3h-3zM661 355h3v3h-3zM667 355h3v3h-3zM652 358h3v3h-3zM658 358h3v3h-3zM664 358h3v3h-3zM670 358h3v3h-3zM655 361h3v3h-3zM661 361h3v3h-3zM667 361h3v3h-3zM652 364h3v3h-3zM658 364h3v3h-3zM664 364h3v3h-3zM670 364h3v3h-3zM655 367h3v3h-3zM661 367h3v3h-3zM667 367h3v3h-3zM652 370h3v3h-3zM658 370h3v3h-3zM664 370h3v3h-3zM670 370h3v3h-3zM655 373h3v3h-3zM661 373h3v3h-3zM667 373h3v3h-3zM652 376h3v3h-3zM658 376h3v3h-3zM664 376h3v3h-3zM670 376h3v3h-3zM655 379h3v3h-3zM661 379h3v3h-3zM667 379h3v3h-3zM652 382h3v3h-3zM658 382h3v3h-3zM664 382h3v3h-3zM670 382h3v3h-3zM655 385h3v3h-3zM661 385h3v3h-3zM667 385h3v3h-3zM652 388h3v3h-3zM658 388h3v3h-3zM664 388h3v3h-3zM670 388h3v3h-3zM655 391h3v3h-3zM661 391h3v3h-3zM667 391h3v3h-3zM652 394h3v3h-3zM658 394h3v3h-3zM664 394h3v3h-3zM670 394h3v3h-3zM655 397h3v3h-3zM661 397h3v3h-3zM667 397h3v3h-3zM652 400h3v3h-3zM658 400h3v3h-3zM664 400h3v3h-3zM670 400h3v3h-3zM655 403h3v3h-3zM661 403h3v3h-3zM667 403h3v3h-3zM652 406h3v3h-3zM658 406h3v3h-3zM664 406h3v3h-3zM670 406h3v3h-3zM655 409h3v3h-3zM661 409h3v3h-3zM667 409h3v3h-3zM652 412h3v3h-3zM658 412h3v3h-3zM664 412h3v3h-3zM670 412h3v3h-3zM655 415h3v3h-3zM661 415h3v3h-3zM667 415h3v3h-3zM652 418h3v3h-3zM658 418h3v3h-3zM664 418h3v3h-3zM670 418h3v3h-3zM655 421h3v3h-3zM661 421h3v3h-3zM667 421h3v3h-3zM652 424h3v3h-3zM658 424h3v3h-3zM664 424h3v3h-3zM670 424h3v3h-3zM655 427h3v3h-3zM661 427h3v3h-3zM667 427h3v3h-3zM652 430h3v3h-3zM658 430h3v3h-3zM664 430h3v3h-3zM670 430h3v3h-3zM655 433h3v3h-3zM661 433h3v3h-3zM667 433h3v3h-3zM652 436h3v3h-3zM658 436h3v3h-3zM664 436h3v3h-3zM670 436h3v3h-3zM655 439h3v3h-3zM661 439h3v3h-3zM667 439h3v3h-3zM652 442h3v3h-3zM658 442h3v3h-3zM664 442h3v3h-3zM670 442h3v3h-3zM655 445h3v3h-3zM661 445h3v3h-3zM667 445h3v3h-3zM652 448h3v3h-3zM658 448h3v3h-3zM664 448h3v3h-3zM670 448h3v3h-3zM655 451h3v3h-3zM661 451h3v3h-3zM667 451h3v3h-3zM652 454h3v3h-3zM658 454h3v3h-3zM664 454h3v3h-3zM670 454h3v3h-3zM655 457h3v3h-3zM661 457h3v3h-3zM667 457h3v3h-3zM652 460h3v3h-3zM658 460h3v3h-3zM664 460h3v3h-3zM670 460h3v3h-3zM655 463h3v3h-3zM661 463h3v3h-3zM667 463h3v3h-3z" fill="#000"/>
<rect x="651.5" y="309.5" width="22.0" height="157.0" fill="none" stroke="#000" stroke-width="1"/>
<line x1="430.50" y1="329.40" x2="430.50" y2="363.87" stroke="#333" stroke-width="1" />
<line x1="428.00" y1="329.50" x2="433.00" y2="329.50" stroke="#333" stroke-width="1" />
<line x1="428.00" y1="363.50" x2="433.00" y2="363.50" stroke="#333" stroke-width="1" />
<line x1="459.50" y1="435.58" x2="459.50" y2="449.77" stroke="#333" stroke-width="1" />
<line x1="457.00" y1="435.50" x2="462.00" y2="435.50" stroke="#333" stroke-width="1" />
<line x1="457.00" y1="449.50" x2="462.00" y2="449.50" stroke="#333" stroke-width="1" />
<line x1="532.50" y1="329.15" x2="532.50" y2="346.38" stroke="#333" stroke-width="1" />
<line x1="530.00" y1="329.50" x2="535.00" y2="329.50" stroke="#333" stroke-width="1" />
<line x1="530.00" y1="346.50" x2="535.00" y2="346.50" stroke="#333" stroke-width="1" />
<line x1="561.50" y1="363.11" x2="561.50" y2="394.53" stroke="#333" stroke-width="1" />
<line x1="559.00" y1="363.50" x2="564.00" y2="363.50" stroke="#333" stroke-width="1" />
<line x1="559.00" y1="394.50" x2="564.00" y2="394.50" stroke="#333" stroke-width="1" />
<line x1="633.50" y1="401.88" x2="633.50" y2="418.09" stroke="#333" stroke-width="1" />
<line x1="631.00" y1="401.50" x2="636.00" y2="401.50" stroke="#333" stroke-width="1" />
<line x1="631.00" y1="418.50" x2="636.00" y2="418.50" stroke="#333" stroke-width="1" />
<line x1="662.50" y1="309.13" x2="662.50" y2="310.15" stroke="#333" stroke-width="1" />
<line x1="660.00" y1="309.50" x2="665.00" y2="309.50" stroke="#333" stroke-width="1" />
<line x1="660.00" y1="310.50" x2="665.00" y2="310.50" stroke="#333" stroke-width="1" />
<line x1="395.60" y1="289.60" x2="395.60" y2="467.70" stroke="#555" stroke-width="1.4" />
<line x1="394.90" y1="467.00" x2="699.20" y2="467.00" stroke="#555" stroke-width="1.4" />
<text x="445.7" y="485.3" font-size="12.4" fill="#000" stroke="#000" stroke-width="0.1" font-weight="bold" text-anchor="middle" >SSD</text>
<text x="547.1" y="485.3" font-size="12.4" fill="#000" stroke="#000" stroke-width="0.1" font-weight="bold" text-anchor="middle" >SGD</text>
<text x="648.0" y="485.3" font-size="12.4" fill="#000" stroke="#000" stroke-width="0.1" font-weight="bold" text-anchor="middle" >SID</text>
<text x="432.0" y="321.6" font-size="13" fill="#262626" stroke="#262626" stroke-width="0.3" font-weight="normal" text-anchor="middle" >a</text>
<text x="460.8" y="430.2" font-size="13" fill="#595959" stroke="#595959" stroke-width="0.3" font-weight="normal" text-anchor="middle" >b</text>
<text x="531.2" y="320.5" font-size="13" fill="#262626" stroke="#262626" stroke-width="0.3" font-weight="normal" text-anchor="middle" >a</text>
<text x="561.3" y="355.9" font-size="13" fill="#595959" stroke="#595959" stroke-width="0.3" font-weight="normal" text-anchor="middle" >c</text>
<text x="633.6" y="395.8" font-size="13" fill="#262626" stroke="#262626" stroke-width="0.3" font-weight="normal" text-anchor="middle" >d</text>
<text x="662.6" y="300.7" font-size="13" fill="#595959" stroke="#595959" stroke-width="0.3" font-weight="normal" text-anchor="middle" >e</text>
<rect x="488.5" y="503.5" width="6.0" height="7.0" fill="#fff"/>
<path d="M491 505h1v1h-1z" fill="#777"/>
<rect x="488.5" y="503.5" width="6.0" height="7.0" fill="none" stroke="#404040" stroke-width="1"/>
<text x="498.9" y="511.0" font-size="14.3" fill="#222" stroke="#222" stroke-width="0.3" font-weight="normal" text-anchor="start" >Control</text>
<rect x="590.5" y="504.5" width="8.0" height="6.0" fill="#fff"/>
<path d="M591 505h4v2h-4zM595 507h3v3h-3z" fill="#000"/>
<rect x="590.5" y="504.5" width="8.0" height="6.0" fill="none" stroke="#000" stroke-width="1"/>
<text x="601.2" y="511.0" font-size="14.3" fill="#222" stroke="#222" stroke-width="0.3" font-weight="normal" text-anchor="start" >DE</text>
</svg></body></html>
